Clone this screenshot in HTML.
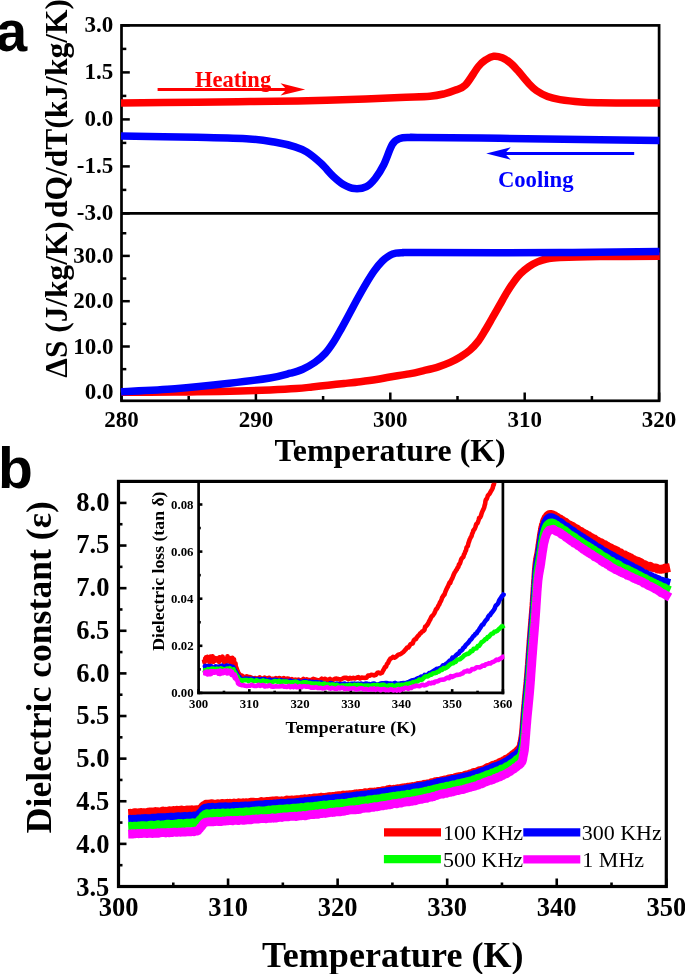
<!DOCTYPE html>
<html><head><meta charset="utf-8"><title>Figure</title>
<style>html,body{margin:0;padding:0;background:#fff;width:685px;height:974px;overflow:hidden}svg{display:block;will-change:transform}</style>
</head><body>
<svg width="685" height="974" viewBox="0 0 685 974">
<text x="194.90" y="86.60" font-size="22.50" font-family='"Liberation Serif", serif' font-weight="bold" fill="#ff0000" text-anchor="start">Heating</text>
<line x1="157.60" y1="89.50" x2="288.00" y2="89.50" stroke="#ff0000" stroke-width="2.90" stroke-linecap="butt"/>
<path d="M305.2,89.45 L280.5,83.3 L286.7,89.45 L280.5,95.6 Z" fill="#ff0000"/>
<text x="497.90" y="187.40" font-size="22.70" font-family='"Liberation Serif", serif' font-weight="bold" fill="#0000ff" text-anchor="start">Cooling</text>
<line x1="503.50" y1="153.50" x2="634.20" y2="153.50" stroke="#0000ff" stroke-width="2.90" stroke-linecap="butt"/>
<path d="M486.2,153.5 L510.7,147.3 L504.8,153.5 L510.7,159.7 Z" fill="#0000ff"/>
<rect x="121.50" y="25.40" width="537.60" height="375.40" fill="none" stroke="#000" stroke-width="2.70"/>
<line x1="121.50" y1="213.30" x2="659.10" y2="213.30" stroke="#000" stroke-width="2.70" stroke-linecap="butt"/>
<line x1="121.50" y1="25.40" x2="129.80" y2="25.40" stroke="#000" stroke-width="2.50" stroke-linecap="butt"/>
<line x1="121.50" y1="48.90" x2="126.30" y2="48.90" stroke="#000" stroke-width="2.50" stroke-linecap="butt"/>
<line x1="121.50" y1="72.40" x2="129.80" y2="72.40" stroke="#000" stroke-width="2.50" stroke-linecap="butt"/>
<line x1="121.50" y1="95.90" x2="126.30" y2="95.90" stroke="#000" stroke-width="2.50" stroke-linecap="butt"/>
<line x1="121.50" y1="119.40" x2="129.80" y2="119.40" stroke="#000" stroke-width="2.50" stroke-linecap="butt"/>
<line x1="121.50" y1="142.90" x2="126.30" y2="142.90" stroke="#000" stroke-width="2.50" stroke-linecap="butt"/>
<line x1="121.50" y1="166.40" x2="129.80" y2="166.40" stroke="#000" stroke-width="2.50" stroke-linecap="butt"/>
<line x1="121.50" y1="189.90" x2="126.30" y2="189.90" stroke="#000" stroke-width="2.50" stroke-linecap="butt"/>
<line x1="121.50" y1="213.40" x2="129.80" y2="213.40" stroke="#000" stroke-width="2.50" stroke-linecap="butt"/>
<line x1="121.50" y1="391.80" x2="129.80" y2="391.80" stroke="#000" stroke-width="2.50" stroke-linecap="butt"/>
<line x1="121.50" y1="369.15" x2="126.30" y2="369.15" stroke="#000" stroke-width="2.50" stroke-linecap="butt"/>
<line x1="121.50" y1="346.50" x2="129.80" y2="346.50" stroke="#000" stroke-width="2.50" stroke-linecap="butt"/>
<line x1="121.50" y1="323.85" x2="126.30" y2="323.85" stroke="#000" stroke-width="2.50" stroke-linecap="butt"/>
<line x1="121.50" y1="301.20" x2="129.80" y2="301.20" stroke="#000" stroke-width="2.50" stroke-linecap="butt"/>
<line x1="121.50" y1="278.55" x2="126.30" y2="278.55" stroke="#000" stroke-width="2.50" stroke-linecap="butt"/>
<line x1="121.50" y1="255.90" x2="129.80" y2="255.90" stroke="#000" stroke-width="2.50" stroke-linecap="butt"/>
<line x1="121.50" y1="233.25" x2="126.30" y2="233.25" stroke="#000" stroke-width="2.50" stroke-linecap="butt"/>
<line x1="121.50" y1="400.80" x2="121.50" y2="392.50" stroke="#000" stroke-width="2.50" stroke-linecap="butt"/>
<line x1="188.70" y1="400.80" x2="188.70" y2="396.00" stroke="#000" stroke-width="2.50" stroke-linecap="butt"/>
<line x1="255.90" y1="400.80" x2="255.90" y2="392.50" stroke="#000" stroke-width="2.50" stroke-linecap="butt"/>
<line x1="323.10" y1="400.80" x2="323.10" y2="396.00" stroke="#000" stroke-width="2.50" stroke-linecap="butt"/>
<line x1="390.30" y1="400.80" x2="390.30" y2="392.50" stroke="#000" stroke-width="2.50" stroke-linecap="butt"/>
<line x1="457.50" y1="400.80" x2="457.50" y2="396.00" stroke="#000" stroke-width="2.50" stroke-linecap="butt"/>
<line x1="524.70" y1="400.80" x2="524.70" y2="392.50" stroke="#000" stroke-width="2.50" stroke-linecap="butt"/>
<line x1="591.90" y1="400.80" x2="591.90" y2="396.00" stroke="#000" stroke-width="2.50" stroke-linecap="butt"/>
<line x1="659.10" y1="400.80" x2="659.10" y2="392.50" stroke="#000" stroke-width="2.50" stroke-linecap="butt"/>
<path d="M121.00,102.90 C133.67,102.78 175.50,102.42 197.00,102.20 C218.50,101.98 233.17,101.80 250.00,101.60 C266.83,101.40 281.33,101.33 298.00,101.00 C314.67,100.67 333.00,100.20 350.00,99.60 C367.00,99.00 386.67,97.97 400.00,97.40 C413.33,96.83 422.50,96.83 430.00,96.20 C437.50,95.57 440.83,94.58 445.00,93.60 C449.17,92.62 451.62,91.70 455.00,90.30 C458.38,88.90 461.40,89.17 465.30,85.20 C469.20,81.23 474.90,70.78 478.40,66.50 C481.90,62.22 483.77,61.20 486.30,59.50 C488.83,57.80 490.95,56.58 493.60,56.30 C496.25,56.02 499.40,56.68 502.20,57.80 C505.00,58.92 507.80,60.87 510.40,63.00 C513.00,65.13 514.75,67.18 517.80,70.60 C520.85,74.02 525.62,80.18 528.70,83.50 C531.78,86.82 533.15,88.33 536.30,90.50 C539.45,92.67 543.65,94.98 547.60,96.50 C551.55,98.02 554.43,98.68 560.00,99.60 C565.57,100.52 574.33,101.48 581.00,102.00 C587.67,102.52 591.83,102.55 600.00,102.70 C608.17,102.85 620.03,102.86 630.00,102.90 C639.97,102.94 654.83,102.94 659.80,102.95" fill="none" stroke="#ff0000" stroke-width="7.50" stroke-linejoin="round" stroke-linecap="butt"/>
<path d="M121.00,136.00 C133.63,136.22 175.40,136.82 196.80,137.30 C218.20,137.78 236.27,138.07 249.40,138.90 C262.53,139.73 268.00,140.98 275.60,142.30 C283.20,143.62 289.83,145.20 295.00,146.80 C300.17,148.40 302.28,149.15 306.60,151.90 C310.92,154.65 316.48,159.25 320.90,163.30 C325.32,167.35 329.35,172.68 333.10,176.20 C336.85,179.72 339.83,182.33 343.40,184.40 C346.97,186.47 350.65,188.23 354.50,188.60 C358.35,188.97 363.05,188.28 366.50,186.60 C369.95,184.92 372.35,182.10 375.20,178.50 C378.05,174.90 380.73,170.70 383.60,165.00 C386.47,159.30 389.70,148.73 392.40,144.30 C395.10,139.87 396.87,139.53 399.80,138.40 C402.73,137.27 406.63,137.67 410.00,137.50 C413.37,137.33 405.00,137.27 420.00,137.40 C435.00,137.53 470.00,137.92 500.00,138.30 C530.00,138.68 573.42,139.33 600.00,139.70 C626.58,140.07 649.58,140.37 659.50,140.50" fill="none" stroke="#0000ff" stroke-width="7.50" stroke-linejoin="round" stroke-linecap="butt"/>
<path d="M121.60,392.20 C130.50,392.18 162.43,392.17 175.00,392.10 C187.57,392.03 186.17,391.98 197.00,391.80 C207.83,391.62 227.83,391.32 240.00,391.00 C252.17,390.68 260.65,390.32 270.00,389.90 C279.35,389.48 289.08,388.98 296.10,388.50 C303.12,388.02 306.75,387.55 312.10,387.00 C317.45,386.45 322.85,385.78 328.20,385.20 C333.55,384.62 338.85,384.08 344.20,383.50 C349.55,382.92 354.93,382.37 360.30,381.70 C365.67,381.03 371.45,380.28 376.40,379.50 C381.35,378.72 384.53,377.93 390.00,377.00 C395.47,376.07 403.57,374.97 409.20,373.90 C414.83,372.83 418.93,371.78 423.80,370.60 C428.67,369.42 434.02,368.17 438.40,366.80 C442.78,365.43 446.45,364.03 450.10,362.40 C453.75,360.77 457.02,359.02 460.30,357.00 C463.58,354.98 466.80,352.95 469.80,350.30 C472.80,347.65 475.68,344.53 478.30,341.10 C480.92,337.67 483.12,333.65 485.50,329.70 C487.88,325.75 490.25,321.48 492.60,317.40 C494.95,313.32 497.27,309.28 499.60,305.20 C501.93,301.12 504.28,296.70 506.60,292.90 C508.92,289.10 511.18,285.60 513.50,282.40 C515.82,279.20 517.92,276.33 520.50,273.70 C523.08,271.07 526.17,268.57 529.00,266.60 C531.83,264.63 534.42,263.20 537.50,261.90 C540.58,260.60 543.75,259.53 547.50,258.80 C551.25,258.07 551.25,257.87 560.00,257.50 C568.75,257.13 583.37,256.80 600.00,256.60 C616.63,256.40 649.83,256.35 659.80,256.30" fill="none" stroke="#ff0000" stroke-width="7.50" stroke-linejoin="round" stroke-linecap="butt"/>
<path d="M121.00,391.70 C130.00,391.20 156.92,390.10 175.00,388.70 C193.08,387.30 213.67,385.08 229.50,383.30 C245.33,381.52 259.85,379.68 270.00,378.00 C280.15,376.32 284.95,374.67 290.40,373.20 C295.85,371.73 298.60,371.02 302.70,369.20 C306.80,367.38 311.25,364.93 315.00,362.30 C318.75,359.67 322.13,356.73 325.20,353.40 C328.27,350.07 330.68,346.48 333.40,342.30 C336.12,338.12 338.78,333.15 341.50,328.30 C344.22,323.45 346.97,318.25 349.70,313.20 C352.43,308.15 355.17,302.93 357.90,298.00 C360.63,293.07 363.38,288.12 366.10,283.60 C368.82,279.08 371.48,274.67 374.20,270.90 C376.92,267.13 379.77,263.60 382.40,261.00 C385.03,258.40 387.73,256.60 390.00,255.30 C392.27,254.00 394.00,253.63 396.00,253.20 C398.00,252.77 398.00,252.80 402.00,252.70 C406.00,252.60 393.67,252.62 420.00,252.60 C446.33,252.58 520.08,252.78 560.00,252.60 C599.92,252.42 642.92,251.68 659.50,251.50" fill="none" stroke="#0000ff" stroke-width="7.50" stroke-linejoin="round" stroke-linecap="butt"/>
<text x="113.28" y="32.49" font-size="23.00" font-family='"Liberation Serif", serif' font-weight="bold" fill="#000" text-anchor="end">3.0</text>
<text x="113.24" y="79.43" font-size="23.00" font-family='"Liberation Serif", serif' font-weight="bold" fill="#000" text-anchor="end">1.5</text>
<text x="113.28" y="126.49" font-size="23.00" font-family='"Liberation Serif", serif' font-weight="bold" fill="#000" text-anchor="end">0.0</text>
<text x="113.24" y="173.43" font-size="23.00" font-family='"Liberation Serif", serif' font-weight="bold" fill="#000" text-anchor="end">-1.5</text>
<text x="113.28" y="220.49" font-size="23.00" font-family='"Liberation Serif", serif' font-weight="bold" fill="#000" text-anchor="end">-3.0</text>
<text x="113.48" y="398.99" font-size="23.00" font-family='"Liberation Serif", serif' font-weight="bold" fill="#000" text-anchor="end">0.0</text>
<text x="113.48" y="353.69" font-size="23.00" font-family='"Liberation Serif", serif' font-weight="bold" fill="#000" text-anchor="end">10.0</text>
<text x="113.48" y="308.39" font-size="23.00" font-family='"Liberation Serif", serif' font-weight="bold" fill="#000" text-anchor="end">20.0</text>
<text x="113.48" y="263.09" font-size="23.00" font-family='"Liberation Serif", serif' font-weight="bold" fill="#000" text-anchor="end">30.0</text>
<text x="121.50" y="427.00" font-size="23.00" font-family='"Liberation Serif", serif' font-weight="bold" fill="#000" text-anchor="middle">280</text>
<text x="255.90" y="427.00" font-size="23.00" font-family='"Liberation Serif", serif' font-weight="bold" fill="#000" text-anchor="middle">290</text>
<text x="390.30" y="427.00" font-size="23.00" font-family='"Liberation Serif", serif' font-weight="bold" fill="#000" text-anchor="middle">300</text>
<text x="524.70" y="427.00" font-size="23.00" font-family='"Liberation Serif", serif' font-weight="bold" fill="#000" text-anchor="middle">310</text>
<text x="659.10" y="427.00" font-size="23.00" font-family='"Liberation Serif", serif' font-weight="bold" fill="#000" text-anchor="middle">320</text>
<text x="274.40" y="461.00" font-size="31.80" font-family='"Liberation Serif", serif' font-weight="bold" fill="#000" text-anchor="start" textLength="231.3">Temperature (K)</text>
<text x="66.75" y="377.70" font-size="31.35" font-family='"Liberation Serif", serif' font-weight="bold" fill="#000" text-anchor="start" transform="rotate(-90 66.75 377.70)" textLength="156.4">ΔS (J/kg/K)</text>
<text x="66.75" y="218.00" font-size="31.50" font-family='"Liberation Serif", serif' font-weight="bold" fill="#000" text-anchor="start" transform="rotate(-90 66.75 218.00)" textLength="218.96">dQ/dT(kJ/kg/K)</text>
<text x="-4.30" y="51.40" font-size="56.50" font-family='"Liberation Sans", sans-serif' font-weight="bold" fill="#000" text-anchor="start">a</text>
<rect x="118.50" y="481.40" width="547.80" height="405.10" fill="none" stroke="#000" stroke-width="3.20"/>
<line x1="118.50" y1="886.50" x2="126.50" y2="886.50" stroke="#000" stroke-width="2.60" stroke-linecap="butt"/>
<line x1="118.50" y1="865.19" x2="122.50" y2="865.19" stroke="#000" stroke-width="2.60" stroke-linecap="butt"/>
<line x1="118.50" y1="843.88" x2="126.50" y2="843.88" stroke="#000" stroke-width="2.60" stroke-linecap="butt"/>
<line x1="118.50" y1="822.57" x2="122.50" y2="822.57" stroke="#000" stroke-width="2.60" stroke-linecap="butt"/>
<line x1="118.50" y1="801.26" x2="126.50" y2="801.26" stroke="#000" stroke-width="2.60" stroke-linecap="butt"/>
<line x1="118.50" y1="779.95" x2="122.50" y2="779.95" stroke="#000" stroke-width="2.60" stroke-linecap="butt"/>
<line x1="118.50" y1="758.64" x2="126.50" y2="758.64" stroke="#000" stroke-width="2.60" stroke-linecap="butt"/>
<line x1="118.50" y1="737.33" x2="122.50" y2="737.33" stroke="#000" stroke-width="2.60" stroke-linecap="butt"/>
<line x1="118.50" y1="716.02" x2="126.50" y2="716.02" stroke="#000" stroke-width="2.60" stroke-linecap="butt"/>
<line x1="118.50" y1="694.71" x2="122.50" y2="694.71" stroke="#000" stroke-width="2.60" stroke-linecap="butt"/>
<line x1="118.50" y1="673.40" x2="126.50" y2="673.40" stroke="#000" stroke-width="2.60" stroke-linecap="butt"/>
<line x1="118.50" y1="652.09" x2="122.50" y2="652.09" stroke="#000" stroke-width="2.60" stroke-linecap="butt"/>
<line x1="118.50" y1="630.78" x2="126.50" y2="630.78" stroke="#000" stroke-width="2.60" stroke-linecap="butt"/>
<line x1="118.50" y1="609.47" x2="122.50" y2="609.47" stroke="#000" stroke-width="2.60" stroke-linecap="butt"/>
<line x1="118.50" y1="588.16" x2="126.50" y2="588.16" stroke="#000" stroke-width="2.60" stroke-linecap="butt"/>
<line x1="118.50" y1="566.85" x2="122.50" y2="566.85" stroke="#000" stroke-width="2.60" stroke-linecap="butt"/>
<line x1="118.50" y1="545.54" x2="126.50" y2="545.54" stroke="#000" stroke-width="2.60" stroke-linecap="butt"/>
<line x1="118.50" y1="524.23" x2="122.50" y2="524.23" stroke="#000" stroke-width="2.60" stroke-linecap="butt"/>
<line x1="118.50" y1="502.92" x2="126.50" y2="502.92" stroke="#000" stroke-width="2.60" stroke-linecap="butt"/>
<line x1="118.50" y1="886.50" x2="118.50" y2="878.50" stroke="#000" stroke-width="2.60" stroke-linecap="butt"/>
<line x1="173.28" y1="886.50" x2="173.28" y2="882.50" stroke="#000" stroke-width="2.60" stroke-linecap="butt"/>
<line x1="228.06" y1="886.50" x2="228.06" y2="878.50" stroke="#000" stroke-width="2.60" stroke-linecap="butt"/>
<line x1="282.84" y1="886.50" x2="282.84" y2="882.50" stroke="#000" stroke-width="2.60" stroke-linecap="butt"/>
<line x1="337.62" y1="886.50" x2="337.62" y2="878.50" stroke="#000" stroke-width="2.60" stroke-linecap="butt"/>
<line x1="392.40" y1="886.50" x2="392.40" y2="882.50" stroke="#000" stroke-width="2.60" stroke-linecap="butt"/>
<line x1="447.18" y1="886.50" x2="447.18" y2="878.50" stroke="#000" stroke-width="2.60" stroke-linecap="butt"/>
<line x1="501.96" y1="886.50" x2="501.96" y2="882.50" stroke="#000" stroke-width="2.60" stroke-linecap="butt"/>
<line x1="556.74" y1="886.50" x2="556.74" y2="878.50" stroke="#000" stroke-width="2.60" stroke-linecap="butt"/>
<line x1="611.52" y1="886.50" x2="611.52" y2="882.50" stroke="#000" stroke-width="2.60" stroke-linecap="butt"/>
<line x1="666.30" y1="886.50" x2="666.30" y2="878.50" stroke="#000" stroke-width="2.60" stroke-linecap="butt"/>
<text x="109.37" y="895.69" font-size="26.50" font-family='"Liberation Serif", serif' font-weight="bold" fill="#000" text-anchor="end">3.5</text>
<text x="109.41" y="852.95" font-size="26.50" font-family='"Liberation Serif", serif' font-weight="bold" fill="#000" text-anchor="end">4.0</text>
<text x="109.37" y="810.08" font-size="26.50" font-family='"Liberation Serif", serif' font-weight="bold" fill="#000" text-anchor="end">4.5</text>
<text x="109.41" y="767.40" font-size="26.50" font-family='"Liberation Serif", serif' font-weight="bold" fill="#000" text-anchor="end">5.0</text>
<text x="109.37" y="724.49" font-size="26.50" font-family='"Liberation Serif", serif' font-weight="bold" fill="#000" text-anchor="end">5.5</text>
<text x="109.41" y="681.85" font-size="26.50" font-family='"Liberation Serif", serif' font-weight="bold" fill="#000" text-anchor="end">6.0</text>
<text x="109.37" y="639.03" font-size="26.50" font-family='"Liberation Serif", serif' font-weight="bold" fill="#000" text-anchor="end">6.5</text>
<text x="109.41" y="596.30" font-size="26.50" font-family='"Liberation Serif", serif' font-weight="bold" fill="#000" text-anchor="end">7.0</text>
<text x="109.37" y="553.38" font-size="26.50" font-family='"Liberation Serif", serif' font-weight="bold" fill="#000" text-anchor="end">7.5</text>
<text x="109.41" y="510.74" font-size="26.50" font-family='"Liberation Serif", serif' font-weight="bold" fill="#000" text-anchor="end">8.0</text>
<text x="118.50" y="916.00" font-size="26.50" font-family='"Liberation Serif", serif' font-weight="bold" fill="#000" text-anchor="middle">300</text>
<text x="228.06" y="916.00" font-size="26.50" font-family='"Liberation Serif", serif' font-weight="bold" fill="#000" text-anchor="middle">310</text>
<text x="337.62" y="916.00" font-size="26.50" font-family='"Liberation Serif", serif' font-weight="bold" fill="#000" text-anchor="middle">320</text>
<text x="447.18" y="916.00" font-size="26.50" font-family='"Liberation Serif", serif' font-weight="bold" fill="#000" text-anchor="middle">330</text>
<text x="556.74" y="916.00" font-size="26.50" font-family='"Liberation Serif", serif' font-weight="bold" fill="#000" text-anchor="middle">340</text>
<text x="666.30" y="916.00" font-size="26.50" font-family='"Liberation Serif", serif' font-weight="bold" fill="#000" text-anchor="middle">350</text>
<text x="262.04" y="967.00" font-size="36.10" font-family='"Liberation Serif", serif' font-weight="bold" fill="#000" text-anchor="start" textLength="261.55">Temperature (K)</text>
<text x="50.90" y="833.20" font-size="35.60" font-family='"Liberation Serif", serif' font-weight="bold" fill="#000" text-anchor="start" transform="rotate(-90 50.90 833.20)" textLength="332.0">Dielectric constant (ε)</text>
<text x="-2.00" y="488.00" font-size="57.00" font-family='"Liberation Sans", sans-serif' font-weight="bold" fill="#000" text-anchor="start">b</text>
<line x1="198.60" y1="481.40" x2="198.60" y2="694.25" stroke="#000" stroke-width="2.70" stroke-linecap="butt"/>
<line x1="502.90" y1="481.40" x2="502.90" y2="694.25" stroke="#000" stroke-width="2.70" stroke-linecap="butt"/>
<line x1="197.25" y1="692.90" x2="504.25" y2="692.90" stroke="#000" stroke-width="2.70" stroke-linecap="butt"/>
<line x1="198.60" y1="692.90" x2="202.40" y2="692.90" stroke="#000" stroke-width="2.60" stroke-linecap="butt"/>
<line x1="198.60" y1="669.35" x2="200.80" y2="669.35" stroke="#000" stroke-width="2.60" stroke-linecap="butt"/>
<line x1="198.60" y1="645.80" x2="202.40" y2="645.80" stroke="#000" stroke-width="2.60" stroke-linecap="butt"/>
<line x1="198.60" y1="622.25" x2="200.80" y2="622.25" stroke="#000" stroke-width="2.60" stroke-linecap="butt"/>
<line x1="198.60" y1="598.70" x2="202.40" y2="598.70" stroke="#000" stroke-width="2.60" stroke-linecap="butt"/>
<line x1="198.60" y1="575.15" x2="200.80" y2="575.15" stroke="#000" stroke-width="2.60" stroke-linecap="butt"/>
<line x1="198.60" y1="551.60" x2="202.40" y2="551.60" stroke="#000" stroke-width="2.60" stroke-linecap="butt"/>
<line x1="198.60" y1="528.05" x2="200.80" y2="528.05" stroke="#000" stroke-width="2.60" stroke-linecap="butt"/>
<line x1="198.60" y1="504.50" x2="202.40" y2="504.50" stroke="#000" stroke-width="2.60" stroke-linecap="butt"/>
<line x1="198.60" y1="692.90" x2="198.60" y2="689.10" stroke="#000" stroke-width="2.60" stroke-linecap="butt"/>
<line x1="223.96" y1="692.90" x2="223.96" y2="690.70" stroke="#000" stroke-width="2.60" stroke-linecap="butt"/>
<line x1="249.32" y1="692.90" x2="249.32" y2="689.10" stroke="#000" stroke-width="2.60" stroke-linecap="butt"/>
<line x1="274.67" y1="692.90" x2="274.67" y2="690.70" stroke="#000" stroke-width="2.60" stroke-linecap="butt"/>
<line x1="300.03" y1="692.90" x2="300.03" y2="689.10" stroke="#000" stroke-width="2.60" stroke-linecap="butt"/>
<line x1="325.39" y1="692.90" x2="325.39" y2="690.70" stroke="#000" stroke-width="2.60" stroke-linecap="butt"/>
<line x1="350.75" y1="692.90" x2="350.75" y2="689.10" stroke="#000" stroke-width="2.60" stroke-linecap="butt"/>
<line x1="376.11" y1="692.90" x2="376.11" y2="690.70" stroke="#000" stroke-width="2.60" stroke-linecap="butt"/>
<line x1="401.47" y1="692.90" x2="401.47" y2="689.10" stroke="#000" stroke-width="2.60" stroke-linecap="butt"/>
<line x1="426.82" y1="692.90" x2="426.82" y2="690.70" stroke="#000" stroke-width="2.60" stroke-linecap="butt"/>
<line x1="452.18" y1="692.90" x2="452.18" y2="689.10" stroke="#000" stroke-width="2.60" stroke-linecap="butt"/>
<line x1="477.54" y1="692.90" x2="477.54" y2="690.70" stroke="#000" stroke-width="2.60" stroke-linecap="butt"/>
<line x1="502.90" y1="692.90" x2="502.90" y2="689.10" stroke="#000" stroke-width="2.60" stroke-linecap="butt"/>
<text x="193.59" y="697.07" font-size="12.80" font-family='"Liberation Serif", serif' font-weight="bold" fill="#000" text-anchor="end">0.00</text>
<text x="193.65" y="649.97" font-size="12.80" font-family='"Liberation Serif", serif' font-weight="bold" fill="#000" text-anchor="end">0.02</text>
<text x="193.34" y="602.87" font-size="12.80" font-family='"Liberation Serif", serif' font-weight="bold" fill="#000" text-anchor="end">0.04</text>
<text x="193.47" y="555.77" font-size="12.80" font-family='"Liberation Serif", serif' font-weight="bold" fill="#000" text-anchor="end">0.06</text>
<text x="193.53" y="508.67" font-size="12.80" font-family='"Liberation Serif", serif' font-weight="bold" fill="#000" text-anchor="end">0.08</text>
<text x="198.60" y="707.80" font-size="12.80" font-family='"Liberation Serif", serif' font-weight="bold" fill="#000" text-anchor="middle">300</text>
<text x="249.32" y="707.80" font-size="12.80" font-family='"Liberation Serif", serif' font-weight="bold" fill="#000" text-anchor="middle">310</text>
<text x="300.03" y="707.80" font-size="12.80" font-family='"Liberation Serif", serif' font-weight="bold" fill="#000" text-anchor="middle">320</text>
<text x="350.75" y="707.80" font-size="12.80" font-family='"Liberation Serif", serif' font-weight="bold" fill="#000" text-anchor="middle">330</text>
<text x="401.47" y="707.80" font-size="12.80" font-family='"Liberation Serif", serif' font-weight="bold" fill="#000" text-anchor="middle">340</text>
<text x="452.18" y="707.80" font-size="12.80" font-family='"Liberation Serif", serif' font-weight="bold" fill="#000" text-anchor="middle">350</text>
<text x="502.90" y="707.80" font-size="12.80" font-family='"Liberation Serif", serif' font-weight="bold" fill="#000" text-anchor="middle">360</text>
<text x="285.40" y="732.90" font-size="17.70" font-family='"Liberation Serif", serif' font-weight="bold" fill="#000" text-anchor="start" textLength="130.65">Temperature (K)</text>
<text x="163.90" y="650.80" font-size="17.70" font-family='"Liberation Serif", serif' font-weight="bold" fill="#000" text-anchor="start" transform="rotate(-90 163.90 650.80)" textLength="159.3">Dielectric loss (tan δ)</text>
<path d="M128.20,813.50 L128.87,813.46 L129.64,813.41 L130.50,813.07 L131.46,813.55 L132.50,813.43 L133.61,812.90 L134.79,812.73 L136.03,812.66 L137.32,813.05 L138.65,812.87 L140.02,812.59 L141.43,812.45 L142.85,812.73 L144.29,812.73 L145.74,812.74 L147.18,812.45 L148.62,812.02 L150.04,811.81 L151.44,812.33 L152.82,811.95 L154.15,812.15 L155.44,811.48 L156.68,812.08 L157.85,811.58 L158.96,811.97 L160.00,811.93 L161.58,811.50 L163.10,810.97 L164.56,811.69 L165.96,811.21 L167.30,811.48 L168.60,810.85 L169.86,810.70 L171.07,811.20 L172.26,810.71 L173.41,810.45 L174.54,810.56 L175.66,810.69 L176.75,810.08 L177.84,810.47 L178.92,810.33 L180.00,810.31 L181.44,809.93 L182.88,810.43 L184.29,810.49 L185.68,810.50 L187.03,809.98 L188.34,810.29 L189.58,809.96 L190.76,810.25 L191.86,809.59 L192.88,810.28 L193.79,810.30 L194.60,809.84 L196.99,809.66 L198.00,809.90 L198.87,809.89 L199.74,809.16 L200.62,809.66 L201.50,808.30 L202.29,807.27 L203.03,806.15 L203.88,805.35 L205.00,805.19 L206.16,804.19 L207.50,804.03 L208.96,804.46 L210.48,803.94 L212.00,803.70 L213.14,804.15 L214.15,804.10 L215.19,804.03 L216.41,804.17 L217.96,803.60 L220.00,804.21 L220.90,804.04 L221.86,803.40 L222.86,803.43 L223.92,803.72 L225.03,803.69 L226.18,803.44 L227.38,803.26 L228.62,803.46 L229.91,803.17 L231.24,803.52 L232.61,803.70 L234.02,802.99 L235.46,803.30 L236.94,803.39 L238.45,802.78 L240.00,803.29 L241.02,803.34 L242.06,802.80 L243.14,802.77 L244.24,803.09 L245.36,802.75 L246.51,802.57 L247.67,802.99 L248.86,802.78 L250.06,802.32 L251.28,802.16 L252.51,802.18 L253.75,802.19 L255.00,802.61 L256.26,802.38 L257.52,802.41 L258.79,802.24 L260.05,802.20 L261.32,801.41 L262.58,801.75 L263.84,802.07 L265.09,801.98 L266.34,801.29 L267.57,801.37 L268.79,801.49 L270.00,801.18 L271.20,801.26 L272.40,800.78 L273.60,801.04 L274.80,801.03 L276.00,800.53 L277.20,800.58 L278.40,801.26 L279.60,801.02 L280.80,801.10 L282.00,800.76 L283.20,800.86 L284.40,800.86 L285.60,800.79 L286.80,799.96 L288.00,800.44 L289.20,800.03 L290.40,800.33 L291.60,799.89 L292.80,800.06 L294.00,800.32 L295.20,799.97 L296.40,799.55 L297.60,799.70 L298.80,799.53 L300.00,799.91 L301.20,799.22 L302.40,799.14 L303.60,799.35 L304.80,798.78 L306.00,799.10 L307.20,799.33 L308.40,798.82 L309.60,798.49 L310.80,798.56 L312.00,798.51 L313.20,798.05 L314.40,797.91 L315.60,797.80 L316.80,797.83 L318.00,797.81 L319.20,797.58 L320.40,797.42 L321.60,797.16 L322.80,797.45 L324.00,797.60 L325.20,797.27 L326.40,797.12 L327.60,797.07 L328.80,796.55 L330.00,796.89 L331.20,796.55 L332.40,796.51 L333.60,796.46 L334.80,796.21 L336.00,795.96 L337.20,795.78 L338.40,795.65 L339.60,795.80 L340.80,795.57 L342.00,795.63 L343.20,795.00 L344.40,795.19 L345.60,795.54 L346.80,794.86 L348.00,795.03 L349.20,794.85 L350.40,794.54 L351.60,795.05 L352.80,794.30 L354.00,794.61 L355.20,793.93 L356.40,793.71 L357.60,794.31 L358.80,793.78 L360.00,793.31 L361.20,793.46 L362.40,793.36 L363.60,793.48 L364.80,792.77 L366.00,792.73 L367.20,793.24 L368.40,792.89 L369.60,792.21 L370.80,792.21 L372.00,792.07 L373.20,792.20 L374.40,791.99 L375.60,792.04 L376.80,791.85 L378.00,791.42 L379.20,791.45 L380.40,791.29 L381.60,791.14 L382.80,790.72 L384.00,790.84 L385.20,790.60 L386.40,790.62 L387.60,789.75 L388.80,790.25 L390.00,789.30 L391.21,789.82 L392.43,789.49 L393.66,789.25 L394.91,789.50 L396.16,788.97 L397.42,788.67 L398.68,788.82 L399.95,788.73 L401.21,788.32 L402.48,787.94 L403.74,787.84 L405.00,787.67 L406.25,787.73 L407.49,787.17 L408.72,787.08 L409.94,787.05 L411.14,786.72 L412.33,786.49 L413.49,786.73 L414.64,786.61 L415.76,786.12 L416.86,785.89 L417.94,785.47 L418.98,785.40 L420.00,785.08 L421.45,785.22 L422.84,784.97 L424.19,784.26 L425.50,784.74 L426.77,783.93 L428.00,784.13 L429.20,783.85 L430.36,783.68 L431.50,782.73 L432.62,782.66 L433.71,782.83 L434.79,781.76 L435.85,781.54 L436.90,781.75 L437.94,781.45 L438.97,781.60 L440.00,781.25 L441.43,780.71 L442.79,780.81 L444.10,780.09 L445.37,779.81 L446.60,779.70 L447.81,779.18 L449.00,778.90 L450.19,778.86 L451.37,778.38 L452.56,778.66 L453.77,778.14 L455.00,777.72 L456.25,777.05 L457.50,777.01 L458.75,776.74 L460.00,776.60 L461.25,776.31 L462.50,776.29 L463.75,776.07 L465.00,775.33 L466.25,774.96 L467.50,774.80 L468.75,774.80 L470.00,773.86 L471.15,773.67 L472.31,773.55 L473.46,772.59 L474.62,772.34 L475.77,772.54 L476.92,772.00 L478.08,771.31 L479.23,770.54 L480.38,770.83 L481.54,770.22 L482.69,769.91 L483.85,769.63 L485.00,769.10 L486.17,768.23 L487.36,767.53 L488.56,767.18 L489.78,766.90 L491.00,766.41 L492.21,765.63 L493.41,765.14 L494.59,765.05 L495.75,764.54 L496.88,763.84 L497.97,763.95 L499.01,763.17 L500.00,762.19 L501.35,761.90 L502.64,761.63 L503.85,760.61 L505.01,760.37 L505.97,759.18 L506.89,758.90 L507.77,758.83 L508.61,758.06 L509.41,757.61 L510.50,756.43 L511.45,755.99 L512.30,755.35 L513.10,754.40 L513.88,754.04 L514.70,753.20 L515.69,752.87 L516.70,751.75 L517.70,750.85 L518.64,749.80 L519.49,748.96 L520.20,748.52 L520.74,746.83 L521.15,745.63 L521.46,744.43 L521.71,743.44 L521.95,742.36 L522.20,740.83 L522.42,739.99 L522.60,738.47 L522.76,737.60 L522.92,737.35 L523.09,735.75 L523.28,734.52 L523.50,732.06 L523.58,731.04 L523.67,730.22 L523.75,729.10 L523.84,728.80 L523.93,727.43 L524.02,726.10 L524.11,725.02 L524.21,723.76 L524.30,722.22 L524.40,721.70 L524.50,720.13 L524.60,719.15 L524.71,717.34 L524.81,716.14 L524.92,714.44 L525.03,712.88 L525.14,712.30 L525.25,710.85 L525.37,708.99 L525.48,708.14 L525.60,706.71 L525.70,705.11 L525.81,704.24 L525.91,703.40 L526.02,701.82 L526.13,701.05 L526.25,699.23 L526.36,698.17 L526.48,697.27 L526.60,695.61 L526.72,694.47 L526.84,693.76 L526.96,692.17 L527.08,691.21 L527.20,689.47 L527.32,688.15 L527.44,687.06 L527.57,685.63 L527.69,685.07 L527.81,683.17 L527.93,682.13 L528.04,680.43 L528.16,679.51 L528.28,678.07 L528.39,676.77 L528.50,675.15 L528.59,674.06 L528.69,673.54 L528.78,671.96 L528.87,670.69 L528.96,669.47 L529.05,668.37 L529.14,667.13 L529.23,665.75 L529.32,665.12 L529.41,663.62 L529.50,662.24 L529.59,661.51 L529.67,659.74 L529.76,658.68 L529.85,657.96 L529.94,656.09 L530.02,655.14 L530.11,654.26 L530.20,653.00 L530.29,651.19 L530.38,650.13 L530.47,649.23 L530.55,647.69 L530.64,646.98 L530.73,645.08 L530.82,644.52 L530.92,642.90 L531.01,641.44 L531.10,640.43 L531.19,638.93 L531.29,638.24 L531.38,636.64 L531.48,636.01 L531.57,634.54 L531.67,633.14 L531.76,631.84 L531.86,630.97 L531.96,629.42 L532.05,628.82 L532.15,626.96 L532.25,626.12 L532.35,624.95 L532.44,623.51 L532.54,622.76 L532.64,621.21 L532.74,620.26 L532.84,618.97 L532.93,617.54 L533.03,616.40 L533.13,614.91 L533.23,613.77 L533.32,613.16 L533.42,611.45 L533.52,610.53 L533.61,608.79 L533.71,607.95 L533.80,606.52 L533.90,605.39 L533.99,604.01 L534.08,602.58 L534.17,601.56 L534.25,600.22 L534.34,598.84 L534.43,598.07 L534.52,596.36 L534.61,595.14 L534.70,594.26 L534.79,592.80 L534.87,591.55 L534.96,590.18 L535.05,588.18 L535.14,586.96 L535.22,585.40 L535.31,584.66 L535.40,583.33 L535.49,581.74 L535.57,580.51 L535.66,579.46 L535.75,578.25 L535.83,576.62 L535.92,575.96 L536.01,574.34 L536.09,573.46 L536.18,571.95 L536.26,570.82 L536.35,570.51 L536.43,569.36 L536.52,568.40 L536.60,566.90 L536.80,564.93 L537.00,563.29 L537.20,561.76 L537.40,560.47 L537.60,559.28 L537.80,557.83 L538.00,557.02 L538.19,556.32 L538.38,554.95 L538.57,554.59 L538.75,553.39 L538.93,552.51 L539.10,551.02 L539.31,549.74 L539.52,548.57 L539.71,546.90 L539.90,545.25 L540.09,544.70 L540.27,543.36 L540.45,541.66 L540.63,540.21 L540.81,539.71 L541.00,538.28 L541.21,536.44 L541.41,535.29 L541.62,533.87 L541.82,533.20 L542.03,531.43 L542.24,530.85 L542.45,529.53 L542.67,527.82 L542.90,527.30 L543.26,525.53 L543.63,524.44 L544.01,523.20 L544.40,521.50 L544.80,520.21 L545.20,519.96 L546.00,517.78 L546.82,516.90 L547.70,515.66 L549.11,514.66 L550.70,514.40 L551.96,514.61 L553.33,515.17 L554.70,515.60 L555.63,516.63 L556.55,516.90 L558.80,518.51 L559.51,519.30 L560.32,519.05 L561.20,520.14 L562.16,520.07 L563.18,521.28 L564.26,522.02 L565.37,522.20 L566.51,523.15 L567.68,524.24 L568.85,524.65 L570.03,525.27 L571.19,525.71 L572.33,526.22 L573.45,527.14 L574.52,527.82 L575.54,528.23 L576.53,528.90 L577.50,529.31 L578.44,530.37 L579.37,530.88 L580.30,531.03 L581.25,531.58 L582.21,532.37 L583.20,532.87 L584.22,533.89 L585.28,533.96 L586.36,534.54 L587.50,535.72 L588.71,535.75 L590.00,536.86 L590.85,537.12 L591.72,538.04 L592.61,538.31 L593.53,539.01 L594.47,539.01 L595.43,540.01 L596.41,540.50 L597.41,540.94 L598.42,541.79 L599.45,542.42 L600.50,542.36 L601.56,543.11 L602.64,543.76 L603.72,544.22 L604.82,544.68 L605.93,545.47 L607.04,545.98 L608.16,547.02 L609.29,547.37 L610.43,547.65 L611.57,548.40 L612.71,549.09 L613.85,549.54 L615.00,549.90 L616.03,550.38 L617.08,550.89 L618.14,552.34 L619.22,552.69 L620.32,552.65 L621.43,553.78 L622.55,554.58 L623.68,554.76 L624.81,554.90 L625.96,555.80 L627.11,556.31 L628.26,556.64 L629.42,557.51 L630.58,557.58 L631.74,558.95 L632.89,559.25 L634.04,559.78 L635.19,560.60 L636.32,560.89 L637.45,561.08 L638.57,561.62 L639.68,562.06 L640.78,562.51 L641.86,563.72 L642.92,564.32 L643.97,564.38 L645.00,564.82 L646.21,565.54 L647.44,566.06 L648.69,566.48 L649.96,566.15 L651.23,567.07 L652.51,567.49 L653.78,567.78 L655.05,567.79 L656.31,568.04 L657.55,569.00 L658.77,568.92 L659.97,569.34 L661.13,569.29 L662.26,568.90 L663.35,569.10 L664.39,568.37 L665.39,568.00 L666.32,568.29 L667.20,568.18 L668.01,567.90 L668.75,567.75 L669.41,567.62 L670.00,567.50" fill="none" stroke="#ff0000" stroke-width="8.80" stroke-linejoin="round" stroke-linecap="butt"/>
<path d="M128.20,819.60 L128.87,819.56 L129.64,819.52 L130.50,819.25 L131.46,819.42 L132.50,819.26 L133.61,819.54 L134.79,819.08 L136.03,819.49 L137.32,818.96 L138.65,818.84 L140.02,819.10 L141.43,818.89 L142.85,818.54 L144.29,818.83 L145.74,818.37 L147.18,818.78 L148.62,818.64 L150.04,818.63 L151.44,818.44 L152.82,818.18 L154.15,818.14 L155.44,818.06 L156.68,818.34 L157.85,817.71 L158.96,818.21 L160.00,817.55 L161.58,817.59 L163.10,817.54 L164.56,817.91 L165.96,817.55 L167.30,817.39 L168.60,817.67 L169.86,817.14 L171.07,817.23 L172.26,817.20 L173.41,817.29 L174.54,817.22 L175.66,817.08 L176.75,816.80 L177.84,816.72 L178.92,816.53 L180.00,816.94 L181.44,816.77 L182.88,816.79 L184.29,816.35 L185.68,816.49 L187.03,816.69 L188.34,816.51 L189.58,816.15 L190.76,816.34 L191.86,816.59 L192.88,816.08 L193.79,816.00 L194.60,816.02 L196.99,816.09 L198.00,815.71 L198.87,814.59 L199.74,813.71 L200.62,812.80 L201.50,811.93 L202.29,811.13 L203.03,809.87 L203.88,808.97 L205.00,808.09 L206.16,808.26 L207.50,807.87 L208.96,807.32 L210.48,807.86 L212.00,807.17 L213.14,807.30 L214.15,807.68 L215.19,807.53 L216.41,807.47 L217.96,807.22 L220.00,806.98 L220.90,807.25 L221.86,806.84 L222.86,806.87 L223.92,806.96 L225.03,806.67 L226.18,806.88 L227.38,807.11 L228.62,806.99 L229.91,806.80 L231.24,806.83 L232.61,806.65 L234.02,806.36 L235.46,806.61 L236.94,806.40 L238.45,806.55 L240.00,806.59 L241.02,806.19 L242.06,806.23 L243.14,806.28 L244.24,805.99 L245.36,805.78 L246.51,806.05 L247.67,806.09 L248.86,805.93 L250.06,805.80 L251.28,805.83 L252.51,805.62 L253.75,805.51 L255.00,805.30 L256.26,805.11 L257.52,805.25 L258.79,804.79 L260.05,804.93 L261.32,805.10 L262.58,804.96 L263.84,804.81 L265.09,804.46 L266.34,804.50 L267.57,804.44 L268.79,804.47 L270.00,804.24 L271.20,804.34 L272.40,804.44 L273.60,803.84 L274.80,804.09 L276.00,804.10 L277.20,803.75 L278.40,803.75 L279.60,804.01 L280.80,803.28 L282.00,803.56 L283.20,803.21 L284.40,803.57 L285.60,803.60 L286.80,803.23 L288.00,802.85 L289.20,803.10 L290.40,802.99 L291.60,803.03 L292.80,802.80 L294.00,802.80 L295.20,802.84 L296.40,802.52 L297.60,802.35 L298.80,802.62 L300.00,802.00 L301.20,802.23 L302.40,801.91 L303.60,802.06 L304.80,801.50 L306.00,801.99 L307.20,801.43 L308.40,801.10 L309.60,801.13 L310.80,801.09 L312.00,800.70 L313.20,800.85 L314.40,800.72 L315.60,800.79 L316.80,800.41 L318.00,800.22 L319.20,800.06 L320.40,800.28 L321.60,800.29 L322.80,799.87 L324.00,799.52 L325.20,799.79 L326.40,799.37 L327.60,799.11 L328.80,798.92 L330.00,799.24 L331.20,799.14 L332.40,798.89 L333.60,798.64 L334.80,798.58 L336.00,798.22 L337.20,798.60 L338.40,798.05 L339.60,798.12 L340.80,798.12 L342.00,797.99 L343.20,797.62 L344.40,797.36 L345.60,797.41 L346.80,796.98 L348.00,797.35 L349.20,796.88 L350.40,797.09 L351.60,796.55 L352.80,796.48 L354.00,796.26 L355.20,796.24 L356.40,795.93 L357.60,795.65 L358.80,796.01 L360.00,795.55 L361.20,795.37 L362.40,795.25 L363.60,795.21 L364.80,795.02 L366.00,795.00 L367.20,794.85 L368.40,794.48 L369.60,794.70 L370.80,794.48 L372.00,793.75 L373.20,794.12 L374.40,794.00 L375.60,793.74 L376.80,793.12 L378.00,793.42 L379.20,793.11 L380.40,792.50 L381.60,792.32 L382.80,792.80 L384.00,792.41 L385.20,791.95 L386.40,791.66 L387.60,791.51 L388.80,791.39 L390.00,791.59 L391.21,791.11 L392.43,790.79 L393.66,791.14 L394.91,790.88 L396.16,790.26 L397.42,790.58 L398.68,790.19 L399.95,790.13 L401.21,789.86 L402.48,789.83 L403.74,789.57 L405.00,789.42 L406.25,788.78 L407.49,788.94 L408.72,788.63 L409.94,788.59 L411.14,788.19 L412.33,788.31 L413.49,787.89 L414.64,787.49 L415.76,787.28 L416.86,787.02 L417.94,787.08 L418.98,786.58 L420.00,786.68 L421.45,786.20 L422.84,786.19 L424.19,785.93 L425.50,785.69 L426.77,785.64 L428.00,784.77 L429.20,785.08 L430.36,784.55 L431.50,784.34 L432.62,784.14 L433.71,784.00 L434.79,783.41 L435.85,783.19 L436.90,783.32 L437.94,782.46 L438.97,782.62 L440.00,782.40 L441.43,781.67 L442.79,781.79 L444.10,781.57 L445.37,781.49 L446.60,780.83 L447.81,781.04 L449.00,780.48 L450.19,780.23 L451.37,780.28 L452.56,779.44 L453.77,779.67 L455.00,779.34 L456.25,778.87 L457.50,778.97 L458.75,778.35 L460.00,778.16 L461.25,777.92 L462.50,777.81 L463.75,777.14 L465.00,777.01 L466.25,776.70 L467.50,776.49 L468.75,776.36 L470.00,775.66 L471.15,775.68 L472.31,775.03 L473.46,774.74 L474.62,774.20 L475.77,773.99 L476.92,773.93 L478.08,773.32 L479.23,773.02 L480.38,772.29 L481.54,771.87 L482.69,771.45 L483.85,771.23 L485.00,770.84 L486.17,770.52 L487.36,769.55 L488.56,769.58 L489.78,769.23 L491.00,768.52 L492.21,767.70 L493.41,767.40 L494.59,766.72 L495.75,766.38 L496.88,766.42 L497.97,765.75 L499.01,765.34 L500.00,765.00 L501.35,764.48 L502.64,763.68 L503.85,763.10 L505.01,762.54 L506.01,762.03 L506.97,761.41 L507.89,760.93 L508.76,760.07 L509.59,759.87 L510.73,758.98 L511.72,758.49 L512.60,757.35 L513.43,756.72 L514.25,755.93 L515.10,755.72 L516.09,755.07 L517.10,754.17 L518.10,753.22 L519.04,752.75 L519.89,751.86 L520.60,750.74 L521.14,749.45 L521.55,748.29 L521.86,747.12 L522.11,745.74 L522.35,744.48 L522.60,743.29 L522.82,742.48 L523.00,741.02 L523.16,740.57 L523.32,739.27 L523.49,738.13 L523.68,737.03 L523.90,734.74 L523.98,734.13 L524.07,732.89 L524.15,731.62 L524.24,730.86 L524.33,729.93 L524.42,729.05 L524.51,727.92 L524.61,726.36 L524.70,725.08 L524.80,723.59 L524.90,722.68 L525.00,721.06 L525.11,719.68 L525.21,718.23 L525.32,716.85 L525.43,715.95 L525.54,714.18 L525.65,713.40 L525.77,711.41 L525.88,710.59 L526.00,708.72 L526.10,707.51 L526.21,706.85 L526.31,705.37 L526.42,704.55 L526.53,702.99 L526.65,701.72 L526.76,701.04 L526.88,699.80 L527.00,698.69 L527.12,697.39 L527.24,695.71 L527.36,694.87 L527.48,693.68 L527.60,692.27 L527.72,691.35 L527.84,689.61 L527.97,688.84 L528.09,687.40 L528.21,685.63 L528.33,684.34 L528.44,683.50 L528.56,682.32 L528.68,680.50 L528.79,679.35 L528.90,678.33 L528.99,676.80 L529.09,676.14 L529.18,674.72 L529.27,673.25 L529.36,672.29 L529.45,671.25 L529.54,669.97 L529.63,668.94 L529.72,667.37 L529.81,666.62 L529.90,665.10 L529.99,664.09 L530.07,662.86 L530.16,661.48 L530.25,660.24 L530.34,659.29 L530.42,658.17 L530.51,656.83 L530.60,655.45 L530.69,654.02 L530.78,652.63 L530.87,652.04 L530.95,650.62 L531.04,649.48 L531.13,647.91 L531.22,646.88 L531.32,645.92 L531.41,644.60 L531.50,643.23 L531.59,641.82 L531.69,640.71 L531.78,639.83 L531.88,638.27 L531.97,637.29 L532.07,636.04 L532.16,635.06 L532.26,633.80 L532.36,632.25 L532.45,630.86 L532.55,629.85 L532.65,628.77 L532.75,627.70 L532.84,626.66 L532.94,625.52 L533.04,623.73 L533.14,623.09 L533.24,621.87 L533.33,620.71 L533.43,619.29 L533.53,617.87 L533.63,617.06 L533.72,615.81 L533.82,614.50 L533.92,613.43 L534.01,611.79 L534.11,610.37 L534.20,609.45 L534.30,608.36 L534.39,606.75 L534.48,605.92 L534.57,604.80 L534.65,603.05 L534.74,602.03 L534.83,600.78 L534.92,599.32 L535.01,597.81 L535.10,596.51 L535.19,595.52 L535.27,594.20 L535.36,592.62 L535.45,591.02 L535.54,590.18 L535.62,588.82 L535.71,587.11 L535.80,586.04 L535.89,584.96 L535.97,583.67 L536.06,582.14 L536.15,580.87 L536.23,579.72 L536.32,578.25 L536.41,577.08 L536.49,575.94 L536.58,575.20 L536.66,573.90 L536.75,573.01 L536.83,571.91 L536.92,571.05 L537.00,569.90 L537.20,567.87 L537.40,566.79 L537.60,564.80 L537.80,563.22 L538.00,562.34 L538.20,561.31 L538.40,559.82 L538.59,559.14 L538.78,558.01 L538.97,557.19 L539.15,555.88 L539.33,554.88 L539.50,554.48 L539.71,552.96 L539.92,551.30 L540.11,550.00 L540.30,548.46 L540.49,547.52 L540.67,545.99 L540.85,545.10 L541.03,543.74 L541.21,542.56 L541.40,541.46 L541.61,539.63 L541.81,538.16 L542.02,536.98 L542.22,535.69 L542.43,534.38 L542.64,533.15 L542.85,532.34 L543.07,531.44 L543.30,530.10 L543.66,528.94 L544.03,527.52 L544.41,525.63 L544.80,524.80 L545.20,523.55 L545.60,522.35 L546.40,521.24 L547.22,519.45 L548.10,518.65 L549.51,517.70 L551.10,517.62 L552.36,517.86 L553.73,518.44 L555.10,519.31 L556.03,519.60 L556.95,520.71 L559.17,522.34 L559.87,522.27 L560.66,522.68 L561.54,523.44 L562.48,524.16 L563.49,525.24 L564.55,525.98 L565.65,526.70 L566.77,526.93 L567.92,528.25 L569.08,529.00 L570.24,529.76 L571.38,530.80 L572.51,530.92 L573.61,531.74 L574.67,532.88 L575.68,533.69 L576.65,534.17 L577.60,534.54 L578.53,535.37 L579.45,536.11 L580.37,536.27 L581.30,537.04 L582.25,537.63 L583.22,538.18 L584.23,539.09 L585.28,539.56 L586.36,540.32 L587.50,541.01 L588.71,542.18 L590.00,542.56 L590.85,543.57 L591.72,543.74 L592.61,544.18 L593.53,545.38 L594.47,545.47 L595.43,546.56 L596.41,547.13 L597.41,547.76 L598.42,547.87 L599.45,548.72 L600.50,549.12 L601.56,550.35 L602.64,550.94 L603.72,551.44 L604.82,551.97 L605.93,552.55 L607.04,553.54 L608.16,553.94 L609.29,554.69 L610.43,554.99 L611.57,555.67 L612.71,556.18 L613.85,557.25 L615.00,557.74 L616.03,558.07 L617.08,559.19 L618.14,559.38 L619.22,560.10 L620.32,560.53 L621.43,561.22 L622.55,562.23 L623.68,562.49 L624.81,562.98 L625.96,563.82 L627.11,564.30 L628.26,565.32 L629.42,565.37 L630.58,566.58 L631.74,566.54 L632.89,567.73 L634.04,568.17 L635.19,568.45 L636.32,569.23 L637.45,569.70 L638.57,570.28 L639.68,570.83 L640.78,571.54 L641.86,572.57 L642.92,573.17 L643.97,573.71 L645.00,573.72 L646.21,574.36 L647.44,575.32 L648.69,575.28 L649.96,576.30 L651.23,576.57 L652.51,577.62 L653.78,577.53 L655.05,578.67 L656.31,578.92 L657.55,579.36 L658.77,579.84 L659.97,580.98 L661.13,581.09 L662.26,581.16 L663.35,581.64 L664.39,582.26 L665.39,582.05 L666.32,582.55 L667.20,582.49 L668.01,582.97 L668.75,583.17 L669.41,583.35 L670.00,583.50" fill="none" stroke="#0000ff" stroke-width="8.80" stroke-linejoin="round" stroke-linecap="butt"/>
<path d="M128.20,826.60 L128.87,826.56 L129.64,826.52 L130.50,826.17 L131.46,826.27 L132.50,826.69 L133.61,826.05 L134.79,826.25 L136.03,826.27 L137.32,826.36 L138.65,825.84 L140.02,825.81 L141.43,825.71 L142.85,825.74 L144.29,825.70 L145.74,825.98 L147.18,825.83 L148.62,825.77 L150.04,825.09 L151.44,825.03 L152.82,825.43 L154.15,825.48 L155.44,825.12 L156.68,825.13 L157.85,824.65 L158.96,824.87 L160.00,825.18 L161.58,825.02 L163.10,824.96 L164.56,824.96 L165.96,824.37 L167.30,824.20 L168.60,824.16 L169.86,824.34 L171.07,824.38 L172.26,824.49 L173.41,824.27 L174.54,824.15 L175.66,824.16 L176.75,823.88 L177.84,823.88 L178.92,823.45 L180.00,823.90 L181.44,823.45 L182.88,823.86 L184.29,823.60 L185.68,823.30 L187.03,823.11 L188.34,823.13 L189.58,823.34 L190.76,823.31 L191.86,822.84 L192.88,822.74 L193.79,822.99 L194.60,822.96 L196.99,822.57 L198.00,821.87 L198.87,821.41 L199.74,820.02 L200.62,819.16 L201.50,818.25 L202.29,817.58 L203.03,816.28 L203.88,815.48 L205.00,814.48 L206.16,813.93 L207.50,813.72 L208.96,814.10 L210.48,813.85 L212.00,813.49 L213.14,813.21 L214.15,813.51 L215.19,813.61 L216.41,813.41 L217.96,813.25 L220.00,813.46 L220.90,813.60 L221.86,813.07 L222.86,812.90 L223.92,813.07 L225.03,813.08 L226.18,813.21 L227.38,812.82 L228.62,813.19 L229.91,813.09 L231.24,812.86 L232.61,812.59 L234.02,813.06 L235.46,812.52 L236.94,812.80 L238.45,812.30 L240.00,812.21 L241.02,812.51 L242.06,812.12 L243.14,812.50 L244.24,812.10 L245.36,811.81 L246.51,811.75 L247.67,811.80 L248.86,811.88 L250.06,811.99 L251.28,811.34 L252.51,811.42 L253.75,811.20 L255.00,811.64 L256.26,810.96 L257.52,810.80 L258.79,810.71 L260.05,810.84 L261.32,811.10 L262.58,810.99 L263.84,810.79 L265.09,810.88 L266.34,810.73 L267.57,810.22 L268.79,810.02 L270.00,810.46 L271.20,810.23 L272.40,809.64 L273.60,810.00 L274.80,809.71 L276.00,809.62 L277.20,809.50 L278.40,809.30 L279.60,809.10 L280.80,809.21 L282.00,809.17 L283.20,809.51 L284.40,808.84 L285.60,809.34 L286.80,808.72 L288.00,808.73 L289.20,808.96 L290.40,808.87 L291.60,808.50 L292.80,808.13 L294.00,808.33 L295.20,808.16 L296.40,808.43 L297.60,807.81 L298.80,807.82 L300.00,808.08 L301.20,807.37 L302.40,807.53 L303.60,807.70 L304.80,807.55 L306.00,806.93 L307.20,806.81 L308.40,806.70 L309.60,807.18 L310.80,806.59 L312.00,806.81 L313.20,806.79 L314.40,806.27 L315.60,806.09 L316.80,806.44 L318.00,806.06 L319.20,805.68 L320.40,805.87 L321.60,805.45 L322.80,805.29 L324.00,804.96 L325.20,805.36 L326.40,805.34 L327.60,805.01 L328.80,805.09 L330.00,804.32 L331.20,804.33 L332.40,804.37 L333.60,804.58 L334.80,804.45 L336.00,803.93 L337.20,803.71 L338.40,803.70 L339.60,803.62 L340.80,803.80 L342.00,803.15 L343.20,803.45 L344.40,803.28 L345.60,803.20 L346.80,803.04 L348.00,802.79 L349.20,802.46 L350.40,802.32 L351.60,802.21 L352.80,802.37 L354.00,801.74 L355.20,801.68 L356.40,801.92 L357.60,801.42 L358.80,801.15 L360.00,800.97 L361.20,801.18 L362.40,800.87 L363.60,801.17 L364.80,800.94 L366.00,800.86 L367.20,800.19 L368.40,799.90 L369.60,799.74 L370.80,799.85 L372.00,799.83 L373.20,799.48 L374.40,799.16 L375.60,799.11 L376.80,799.08 L378.00,798.94 L379.20,798.82 L380.40,798.71 L381.60,798.41 L382.80,797.85 L384.00,798.18 L385.20,797.62 L386.40,797.63 L387.60,797.32 L388.80,797.39 L390.00,796.84 L391.21,796.69 L392.43,796.51 L393.66,796.27 L394.91,796.60 L396.16,796.20 L397.42,795.84 L398.68,795.71 L399.95,795.94 L401.21,795.42 L402.48,795.04 L403.74,795.26 L405.00,794.96 L406.25,795.01 L407.49,794.20 L408.72,794.27 L409.94,794.33 L411.14,794.15 L412.33,794.02 L413.49,793.22 L414.64,793.20 L415.76,792.89 L416.86,792.75 L417.94,793.11 L418.98,792.65 L420.00,792.70 L421.45,792.06 L422.84,792.15 L424.19,791.59 L425.50,791.19 L426.77,791.29 L428.00,791.13 L429.20,790.27 L430.36,790.34 L431.50,790.08 L432.62,789.53 L433.71,789.37 L434.79,788.95 L435.85,788.74 L436.90,788.52 L437.94,788.52 L438.97,788.33 L440.00,787.79 L441.43,787.33 L442.79,787.24 L444.10,787.20 L445.37,786.58 L446.60,786.40 L447.81,786.07 L449.00,786.23 L450.19,785.81 L451.37,785.21 L452.56,784.98 L453.77,784.91 L455.00,784.74 L456.25,784.51 L457.50,783.83 L458.75,783.60 L460.00,783.68 L461.25,783.18 L462.50,782.80 L463.75,782.51 L465.00,782.65 L466.25,781.89 L467.50,781.74 L468.75,781.25 L470.00,780.94 L471.15,780.91 L472.31,780.65 L473.46,779.84 L474.62,779.35 L475.77,779.35 L476.92,778.59 L478.08,778.06 L479.23,778.29 L480.38,777.56 L481.54,777.43 L482.69,776.72 L483.85,776.64 L485.00,775.92 L486.17,775.28 L487.36,774.74 L488.56,774.66 L489.78,774.25 L491.00,773.97 L492.21,772.92 L493.41,772.82 L494.59,772.17 L495.75,771.80 L496.88,771.08 L497.97,770.72 L499.01,770.44 L500.00,770.30 L501.35,769.13 L502.64,768.81 L503.85,768.45 L505.01,768.00 L506.06,766.91 L507.07,766.31 L508.03,766.35 L508.94,765.85 L509.82,764.99 L511.01,763.95 L512.05,763.86 L512.98,762.81 L513.85,762.50 L514.71,761.61 L515.60,761.03 L516.59,759.83 L517.60,759.54 L518.60,758.41 L519.54,757.76 L520.39,757.21 L521.10,756.23 L521.64,754.69 L522.05,753.54 L522.36,752.41 L522.61,751.18 L522.85,749.75 L523.10,748.23 L523.32,747.30 L523.50,746.79 L523.66,746.10 L523.82,744.57 L523.99,743.74 L524.18,742.29 L524.40,739.66 L524.48,739.38 L524.57,737.96 L524.65,737.33 L524.74,736.27 L524.83,735.26 L524.92,733.91 L525.01,732.83 L525.11,731.74 L525.20,730.39 L525.30,729.28 L525.40,727.84 L525.50,726.51 L525.61,724.89 L525.71,723.95 L525.82,722.49 L525.93,720.94 L526.04,719.93 L526.15,718.57 L526.27,716.97 L526.38,715.41 L526.50,714.26 L526.60,712.87 L526.71,711.74 L526.81,710.80 L526.92,709.40 L527.03,708.47 L527.15,707.34 L527.26,705.82 L527.38,705.04 L527.50,703.45 L527.62,702.69 L527.74,701.50 L527.86,700.08 L527.98,698.53 L528.10,697.60 L528.22,696.26 L528.34,695.40 L528.47,693.56 L528.59,692.80 L528.71,691.62 L528.83,690.15 L528.94,688.91 L529.06,687.18 L529.18,686.43 L529.29,684.78 L529.40,683.79 L529.49,682.62 L529.59,680.95 L529.68,680.23 L529.77,679.16 L529.86,677.38 L529.95,676.40 L530.04,675.49 L530.13,673.88 L530.22,673.19 L530.31,671.55 L530.40,670.72 L530.49,669.03 L530.57,668.07 L530.66,667.14 L530.75,665.41 L530.84,664.22 L530.92,663.16 L531.01,661.80 L531.10,660.37 L531.19,659.24 L531.28,658.00 L531.37,657.31 L531.45,655.90 L531.54,654.83 L531.63,653.09 L531.72,652.30 L531.82,650.62 L531.91,649.69 L532.00,648.56 L532.09,647.16 L532.19,646.32 L532.28,644.89 L532.38,643.72 L532.47,642.73 L532.57,640.99 L532.66,640.42 L532.76,638.98 L532.86,637.62 L532.95,636.72 L533.05,635.15 L533.15,634.47 L533.25,632.99 L533.34,631.65 L533.44,630.73 L533.54,629.31 L533.64,627.93 L533.74,627.12 L533.83,625.43 L533.93,624.76 L534.03,623.16 L534.13,622.21 L534.22,621.23 L534.32,619.73 L534.42,618.55 L534.51,617.07 L534.61,615.61 L534.70,614.38 L534.80,613.21 L534.89,612.34 L534.98,611.00 L535.07,609.81 L535.15,608.81 L535.24,607.00 L535.33,605.76 L535.42,604.75 L535.51,602.98 L535.60,601.63 L535.69,600.54 L535.77,599.02 L535.86,597.85 L535.95,596.41 L536.04,595.32 L536.12,593.99 L536.21,592.39 L536.30,591.37 L536.39,589.96 L536.47,588.44 L536.56,587.74 L536.65,586.00 L536.73,584.72 L536.82,583.48 L536.91,582.70 L536.99,581.72 L537.08,580.56 L537.16,579.23 L537.25,578.10 L537.33,576.94 L537.42,576.44 L537.50,575.49 L537.70,573.38 L537.90,571.84 L538.10,570.15 L538.30,569.11 L538.50,567.71 L538.70,566.24 L538.90,565.65 L539.09,564.06 L539.28,563.44 L539.47,562.41 L539.65,561.33 L539.83,560.20 L540.00,559.63 L540.21,557.66 L540.42,556.65 L540.61,555.56 L540.80,553.67 L540.99,552.41 L541.17,551.42 L541.35,550.10 L541.53,548.96 L541.71,547.86 L541.90,546.20 L542.11,544.97 L542.31,543.64 L542.52,542.17 L542.72,541.48 L542.93,540.17 L543.14,538.91 L543.35,537.25 L543.57,536.72 L543.80,535.60 L544.16,533.91 L544.53,532.70 L544.91,531.20 L545.30,529.84 L545.70,528.65 L546.10,527.73 L546.90,525.90 L547.72,524.80 L548.60,524.08 L550.01,523.04 L551.60,522.84 L552.86,523.19 L554.23,523.65 L555.60,524.69 L556.53,525.09 L557.45,525.89 L559.63,527.32 L560.32,527.60 L561.10,528.39 L561.96,529.20 L562.89,529.32 L563.88,530.47 L564.91,530.59 L565.99,531.51 L567.10,532.27 L568.23,533.41 L569.36,534.34 L570.50,534.99 L571.63,535.48 L572.74,536.63 L573.81,536.98 L574.85,537.62 L575.85,538.76 L576.80,539.21 L577.73,539.88 L578.65,540.47 L579.55,541.30 L580.45,541.55 L581.37,542.42 L582.30,542.94 L583.25,543.68 L584.25,544.03 L585.28,544.91 L586.36,545.51 L587.50,546.06 L588.71,546.77 L590.00,547.89 L590.85,548.05 L591.72,549.19 L592.61,549.23 L593.53,549.75 L594.47,550.41 L595.43,551.61 L596.41,551.84 L597.41,552.35 L598.42,552.92 L599.45,553.60 L600.50,554.73 L601.56,555.36 L602.64,556.09 L603.72,556.80 L604.82,557.02 L605.93,558.07 L607.04,558.59 L608.16,559.59 L609.29,560.27 L610.43,560.98 L611.57,561.07 L612.71,562.28 L613.85,562.96 L615.00,563.61 L616.03,563.61 L617.08,564.26 L618.14,564.78 L619.22,565.31 L620.32,566.46 L621.43,567.01 L622.55,567.46 L623.68,568.17 L624.81,568.61 L625.96,568.95 L627.11,569.39 L628.26,569.96 L629.42,570.99 L630.58,571.17 L631.74,571.82 L632.89,572.46 L634.04,572.75 L635.19,573.48 L636.32,574.06 L637.45,574.93 L638.57,575.25 L639.68,575.77 L640.78,576.79 L641.86,577.02 L642.92,577.83 L643.97,578.22 L645.00,578.37 L646.21,579.21 L647.44,579.83 L648.69,580.67 L649.96,581.00 L651.23,581.89 L652.51,582.42 L653.78,582.84 L655.05,583.94 L656.31,584.05 L657.55,585.21 L658.77,585.39 L659.97,585.90 L661.13,586.53 L662.26,587.40 L663.35,588.02 L664.39,587.78 L665.39,588.54 L666.32,588.94 L667.20,589.53 L668.01,589.67 L668.75,589.98 L669.41,590.26 L670.00,590.50" fill="none" stroke="#00ff00" stroke-width="8.80" stroke-linejoin="round" stroke-linecap="butt"/>
<path d="M128.20,834.10 L128.87,834.08 L129.64,834.05 L130.50,833.90 L131.46,833.74 L132.50,834.06 L133.61,833.62 L134.79,833.90 L136.03,833.74 L137.32,833.48 L138.65,833.75 L140.02,833.37 L141.43,833.60 L142.85,833.30 L144.29,833.26 L145.74,833.45 L147.18,833.68 L148.62,833.14 L150.04,833.16 L151.44,833.39 L152.82,833.57 L154.15,833.26 L155.44,833.09 L156.68,833.45 L157.85,832.76 L158.96,833.29 L160.00,832.85 L161.58,832.69 L163.10,832.62 L164.56,832.70 L165.96,833.00 L167.30,832.50 L168.60,832.74 L169.86,832.73 L171.07,832.49 L172.26,832.57 L173.41,832.18 L174.54,832.13 L175.66,832.19 L176.75,832.47 L177.84,832.25 L178.92,832.12 L180.00,832.26 L181.44,832.10 L182.88,831.93 L184.29,832.21 L185.68,832.08 L187.03,831.69 L188.34,831.86 L189.58,831.76 L190.76,831.94 L191.86,831.77 L192.88,831.39 L193.79,831.81 L194.60,831.13 L196.99,831.09 L198.00,830.68 L198.87,829.47 L199.74,828.69 L200.62,827.25 L201.50,826.62 L202.29,825.61 L203.03,824.36 L203.88,823.54 L205.00,822.37 L206.16,822.25 L207.50,821.95 L208.96,821.82 L210.48,821.66 L212.00,821.84 L213.14,821.83 L214.15,821.46 L215.19,821.57 L216.41,821.12 L217.96,821.52 L220.00,821.40 L220.90,821.60 L221.86,821.44 L222.86,821.02 L223.92,821.05 L225.03,821.19 L226.18,820.69 L227.38,820.94 L228.62,820.68 L229.91,820.58 L231.24,820.48 L232.61,820.90 L234.02,820.38 L235.46,820.39 L236.94,820.41 L238.45,820.65 L240.00,820.01 L241.02,820.20 L242.06,820.20 L243.14,820.37 L244.24,820.25 L245.36,820.21 L246.51,819.72 L247.67,819.74 L248.86,819.61 L250.06,819.90 L251.28,819.86 L252.51,819.21 L253.75,819.14 L255.00,819.09 L256.26,819.00 L257.52,819.09 L258.79,819.07 L260.05,818.75 L261.32,818.48 L262.58,818.68 L263.84,818.55 L265.09,818.60 L266.34,818.78 L267.57,818.51 L268.79,818.30 L270.00,818.28 L271.20,818.24 L272.40,817.72 L273.60,818.23 L274.80,818.06 L276.00,818.05 L277.20,817.91 L278.40,817.55 L279.60,817.47 L280.80,817.19 L282.00,817.48 L283.20,817.00 L284.40,816.92 L285.60,816.94 L286.80,816.82 L288.00,816.86 L289.20,816.57 L290.40,816.45 L291.60,816.46 L292.80,816.33 L294.00,816.42 L295.20,816.09 L296.40,816.58 L297.60,816.30 L298.80,815.86 L300.00,815.83 L301.20,815.78 L302.40,815.67 L303.60,815.39 L304.80,815.77 L306.00,815.75 L307.20,815.25 L308.40,815.13 L309.60,814.72 L310.80,814.59 L312.00,814.63 L313.20,814.43 L314.40,814.69 L315.60,814.08 L316.80,813.84 L318.00,814.35 L319.20,813.91 L320.40,813.50 L321.60,813.63 L322.80,813.13 L324.00,813.33 L325.20,813.50 L326.40,813.28 L327.60,813.02 L328.80,812.57 L330.00,812.51 L331.20,812.23 L332.40,812.51 L333.60,812.21 L334.80,812.24 L336.00,811.79 L337.20,811.58 L338.40,811.85 L339.60,811.83 L340.80,811.60 L342.00,811.43 L343.20,811.30 L344.40,811.11 L345.60,810.61 L346.80,810.67 L348.00,810.41 L349.20,810.04 L350.40,809.90 L351.60,809.92 L352.80,809.76 L354.00,809.92 L355.20,809.95 L356.40,809.44 L357.60,809.62 L358.80,809.50 L360.00,809.32 L361.20,808.74 L362.40,808.48 L363.60,808.31 L364.80,808.12 L366.00,807.96 L367.20,808.08 L368.40,808.10 L369.60,807.88 L370.80,807.45 L372.00,807.39 L373.20,807.31 L374.40,806.63 L375.60,806.85 L376.80,806.84 L378.00,806.57 L379.20,806.36 L380.40,805.99 L381.60,805.59 L382.80,805.83 L384.00,805.32 L385.20,805.46 L386.40,805.39 L387.60,804.80 L388.80,804.62 L390.00,804.81 L391.21,804.47 L392.43,803.89 L393.66,803.67 L394.91,803.50 L396.16,803.83 L397.42,803.57 L398.68,802.91 L399.95,803.19 L401.21,803.11 L402.48,802.68 L403.74,802.27 L405.00,802.21 L406.25,801.72 L407.49,801.44 L408.72,801.92 L409.94,801.49 L411.14,801.21 L412.33,801.29 L413.49,800.75 L414.64,800.85 L415.76,800.62 L416.86,799.99 L417.94,799.82 L418.98,799.65 L420.00,799.42 L421.45,799.37 L422.84,798.84 L424.19,798.65 L425.50,798.14 L426.77,798.37 L428.00,797.68 L429.20,797.44 L430.36,797.22 L431.50,797.14 L432.62,796.49 L433.71,796.54 L434.79,795.96 L435.85,795.69 L436.90,795.40 L437.94,794.78 L438.97,794.81 L440.00,794.38 L441.43,793.91 L442.79,794.15 L444.10,793.42 L445.37,793.34 L446.60,793.25 L447.81,792.86 L449.00,792.44 L450.19,792.32 L451.37,792.08 L452.56,791.97 L453.77,791.22 L455.00,791.24 L456.25,790.73 L457.50,790.45 L458.75,790.50 L460.00,790.01 L461.25,789.75 L462.50,789.58 L463.75,789.38 L465.00,788.73 L466.25,788.52 L467.50,788.11 L468.75,787.77 L470.00,787.53 L471.15,787.02 L472.31,786.73 L473.46,786.33 L474.62,786.29 L475.77,785.74 L476.92,785.49 L478.08,785.15 L479.23,784.27 L480.38,784.09 L481.54,783.95 L482.69,783.47 L483.85,782.56 L485.00,782.14 L486.17,781.93 L487.36,781.23 L488.56,780.90 L489.78,780.32 L491.00,780.27 L492.21,779.88 L493.41,779.49 L494.59,778.50 L495.75,778.43 L496.88,777.93 L497.97,777.12 L499.01,777.19 L500.00,776.83 L501.35,775.70 L502.64,775.63 L503.85,774.67 L505.01,774.16 L506.10,773.96 L507.15,773.31 L508.14,772.30 L509.09,771.97 L510.00,771.51 L511.24,770.65 L512.31,769.85 L513.28,769.26 L514.19,768.87 L515.08,767.69 L516.00,767.34 L516.99,766.52 L518.00,765.51 L519.00,764.99 L519.94,764.41 L520.79,763.47 L521.50,762.20 L522.04,761.76 L522.45,760.44 L522.76,759.31 L523.01,757.40 L523.25,756.18 L523.50,754.68 L523.72,754.18 L523.90,752.99 L524.06,752.07 L524.22,751.34 L524.39,750.50 L524.58,748.85 L524.80,746.33 L524.88,745.41 L524.97,745.04 L525.05,743.83 L525.14,742.89 L525.23,741.39 L525.32,740.25 L525.41,739.53 L525.51,738.14 L525.60,736.66 L525.70,736.00 L525.80,734.49 L525.90,733.28 L526.01,731.44 L526.11,730.63 L526.22,728.71 L526.33,727.90 L526.44,726.23 L526.55,724.78 L526.67,723.55 L526.78,722.45 L526.90,720.64 L527.00,719.41 L527.11,718.54 L527.21,717.18 L527.32,715.93 L527.43,714.80 L527.55,713.54 L527.66,712.46 L527.78,711.34 L527.90,710.13 L528.02,709.23 L528.14,707.68 L528.26,706.60 L528.38,705.14 L528.50,704.01 L528.62,702.53 L528.74,701.43 L528.87,700.01 L528.99,699.24 L529.11,697.83 L529.23,696.29 L529.34,695.20 L529.46,694.23 L529.58,692.35 L529.69,691.54 L529.80,689.95 L529.89,688.86 L529.99,687.95 L530.08,686.48 L530.17,685.39 L530.26,684.34 L530.35,683.37 L530.44,681.73 L530.53,680.88 L530.62,679.59 L530.71,678.34 L530.80,676.96 L530.89,675.71 L530.97,674.28 L531.06,673.12 L531.15,671.85 L531.24,671.09 L531.32,669.52 L531.41,668.23 L531.50,666.94 L531.59,666.24 L531.68,665.03 L531.77,663.66 L531.85,662.16 L531.94,660.91 L532.03,659.72 L532.12,658.61 L532.22,657.18 L532.31,656.17 L532.40,654.83 L532.49,654.12 L532.59,652.92 L532.68,651.43 L532.78,650.02 L532.87,649.33 L532.97,647.68 L533.06,646.52 L533.16,645.08 L533.26,644.15 L533.35,643.03 L533.45,641.86 L533.55,640.46 L533.65,639.48 L533.74,637.94 L533.84,636.93 L533.94,635.61 L534.04,634.63 L534.14,633.17 L534.23,631.96 L534.33,630.95 L534.43,629.69 L534.53,628.72 L534.62,627.46 L534.72,626.39 L534.82,625.09 L534.91,623.90 L535.01,622.77 L535.10,621.18 L535.20,619.88 L535.29,619.15 L535.38,617.34 L535.47,616.50 L535.55,615.18 L535.64,613.48 L535.73,612.74 L535.82,611.46 L535.91,609.95 L536.00,608.69 L536.09,607.41 L536.17,605.59 L536.26,604.51 L536.35,603.16 L536.44,602.05 L536.52,600.69 L536.61,599.38 L536.70,597.89 L536.79,596.81 L536.87,595.38 L536.96,594.12 L537.05,592.55 L537.13,591.19 L537.22,590.06 L537.31,589.05 L537.39,587.74 L537.48,587.15 L537.56,585.89 L537.65,584.91 L537.73,583.92 L537.82,583.02 L537.90,581.99 L538.10,579.69 L538.30,578.51 L538.50,576.92 L538.70,575.36 L538.90,574.13 L539.10,573.08 L539.30,571.62 L539.49,571.10 L539.68,569.81 L539.87,568.74 L540.05,567.91 L540.23,567.23 L540.40,565.79 L540.61,564.74 L540.82,563.51 L541.01,561.81 L541.20,560.41 L541.39,559.17 L541.57,558.04 L541.75,556.85 L541.93,555.51 L542.11,554.31 L542.30,552.70 L542.51,551.42 L542.71,550.18 L542.92,549.23 L543.12,547.64 L543.33,546.59 L543.54,544.99 L543.75,543.86 L543.97,542.90 L544.20,542.12 L544.56,540.64 L544.93,539.23 L545.31,537.67 L545.70,536.62 L546.10,535.48 L546.50,534.48 L547.30,532.54 L548.12,531.78 L549.00,530.29 L550.41,529.83 L552.00,529.51 L553.26,529.16 L554.63,530.09 L556.00,531.02 L556.93,531.51 L557.85,531.59 L560.00,532.84 L560.68,533.26 L561.45,534.30 L562.30,534.37 L563.21,535.27 L564.19,535.65 L565.21,536.64 L566.27,537.70 L567.36,537.89 L568.47,539.16 L569.59,539.74 L570.71,540.79 L571.82,541.44 L572.92,541.87 L573.98,543.08 L575.00,543.49 L575.98,543.84 L576.92,544.47 L577.84,545.44 L578.74,546.02 L579.63,546.53 L580.52,547.02 L581.42,547.77 L582.34,548.37 L583.28,549.37 L584.26,549.43 L585.28,550.63 L586.36,551.39 L587.50,551.63 L588.71,552.97 L590.00,553.65 L590.85,554.32 L591.72,554.46 L592.61,555.09 L593.53,555.70 L594.47,556.74 L595.43,557.07 L596.41,557.55 L597.41,558.25 L598.42,558.80 L599.45,559.30 L600.50,560.01 L601.56,561.20 L602.64,561.50 L603.72,562.64 L604.82,562.84 L605.93,563.54 L607.04,564.39 L608.16,564.85 L609.29,565.65 L610.43,566.73 L611.57,567.34 L612.71,567.94 L613.85,568.46 L615.00,569.29 L616.03,569.86 L617.08,570.14 L618.14,570.81 L619.22,570.89 L620.32,571.92 L621.43,572.26 L622.55,573.02 L623.68,573.49 L624.81,573.78 L625.96,574.15 L627.11,575.30 L628.26,575.28 L629.42,576.06 L630.58,576.50 L631.74,577.00 L632.89,577.84 L634.04,578.54 L635.19,578.57 L636.32,579.38 L637.45,579.66 L638.57,580.37 L639.68,580.79 L640.78,581.16 L641.86,581.68 L642.92,582.24 L643.97,583.26 L645.00,583.50 L646.21,583.94 L647.44,585.07 L648.69,585.80 L649.96,586.10 L651.23,586.58 L652.51,587.32 L653.78,587.96 L655.05,588.85 L656.31,589.38 L657.55,590.19 L658.77,590.89 L659.97,591.79 L661.13,592.68 L662.26,593.23 L663.35,593.62 L664.39,594.23 L665.39,594.87 L666.32,595.31 L667.20,595.79 L668.01,596.37 L668.75,596.79 L669.41,597.17 L670.00,597.50" fill="none" stroke="#ff00ff" stroke-width="8.80" stroke-linejoin="round" stroke-linecap="butt"/>
<clipPath id="ci"><rect x="198.60" y="482.80" width="307.30" height="210.10"/></clipPath>
<g clip-path="url(#ci)">
<path d="M203.00,659.50 L203.50,659.50 L204.00,659.50 L204.50,662.35 L205.00,659.46 L205.50,659.50 L206.00,657.31 L206.50,658.22 L207.00,660.02 L207.50,656.81 L208.00,660.70 L208.50,657.35 L209.00,659.14 L209.50,662.51 L210.00,656.87 L210.50,656.56 L211.00,659.11 L211.50,657.52 L212.00,660.93 L212.50,656.32 L213.00,661.68 L213.50,661.77 L214.00,661.34 L214.50,659.02 L215.00,658.11 L215.50,660.52 L216.00,659.56 L216.50,658.95 L217.00,658.40 L217.50,659.02 L218.00,660.46 L218.50,661.47 L219.00,661.95 L219.50,657.20 L220.00,658.03 L220.50,658.95 L221.00,659.71 L221.50,658.31 L222.00,657.32 L222.50,656.59 L223.00,658.10 L223.50,658.96 L224.00,662.22 L224.50,661.80 L225.00,661.51 L225.50,662.19 L226.00,662.09 L226.50,659.88 L227.00,661.09 L227.50,656.27 L228.00,660.20 L228.50,659.75 L229.00,657.73 L229.50,659.47 L230.00,661.90 L230.40,659.18 L230.80,660.54 L231.20,658.62 L231.60,659.20 L232.00,662.96 L232.40,657.78 L232.80,659.11 L233.20,662.54 L233.60,661.36 L234.00,659.35 L234.18,663.50 L234.35,662.12 L234.53,663.93 L234.71,663.35 L234.88,664.54 L235.06,665.24 L235.24,664.63 L235.41,663.30 L235.59,664.19 L235.76,669.20 L235.94,667.48 L236.12,666.87 L236.29,668.84 L236.47,668.10 L236.65,668.25 L236.82,669.59 L237.00,669.50 L237.75,671.48 L238.50,673.11 L239.25,673.95 L240.00,676.15 L241.67,675.53 L243.33,676.63 L245.00,677.08 L246.67,676.36 L248.33,677.32 L250.00,676.95 L251.61,677.74 L253.23,678.64 L254.84,678.08 L256.45,678.46 L258.06,678.60 L259.68,677.38 L261.29,679.19 L262.90,678.71 L264.52,677.53 L266.13,679.04 L267.74,678.22 L269.35,677.84 L270.97,679.47 L272.58,678.74 L274.19,679.22 L275.81,678.00 L277.42,679.34 L279.03,677.96 L280.65,678.38 L282.26,678.71 L283.87,678.05 L285.48,679.27 L287.10,678.56 L288.71,678.79 L290.32,679.67 L291.94,679.16 L293.55,680.14 L295.16,679.67 L296.77,680.23 L298.39,679.67 L300.00,680.44 L301.67,680.34 L303.33,678.94 L305.00,680.09 L306.67,679.28 L308.33,680.13 L310.00,679.96 L311.67,680.25 L313.33,678.85 L315.00,679.35 L316.67,680.07 L318.33,680.50 L320.00,680.04 L321.67,678.69 L323.33,679.81 L325.00,678.80 L326.67,679.70 L328.33,680.21 L330.00,678.83 L331.67,680.36 L333.33,679.77 L335.00,678.83 L336.67,678.62 L338.33,679.04 L340.00,679.73 L341.67,679.12 L343.33,678.09 L345.00,677.82 L346.67,677.90 L348.33,679.19 L350.00,677.87 L351.67,678.48 L353.33,677.81 L355.00,678.47 L356.67,677.73 L358.33,677.12 L360.00,678.45 L361.67,677.64 L363.33,677.81 L365.00,677.92 L366.55,677.75 L368.09,675.44 L369.64,675.65 L371.18,674.82 L372.73,675.08 L374.27,675.37 L375.82,674.78 L377.36,672.81 L378.91,672.66 L380.45,673.48 L382.00,672.76 L383.00,670.59 L384.00,669.15 L385.00,666.92 L386.00,666.69 L387.00,663.95 L388.00,663.08 L389.00,660.72 L390.33,658.65 L391.67,658.16 L393.00,656.93 L394.75,657.66 L396.50,656.43 L398.25,654.71 L400.00,654.34 L401.19,653.63 L402.38,652.76 L403.56,651.89 L404.75,650.43 L405.94,649.27 L407.12,647.49 L408.31,647.55 L409.50,645.97 L410.56,644.10 L411.63,643.73 L412.69,643.54 L413.76,640.42 L414.82,639.38 L415.89,639.18 L416.95,637.15 L418.01,635.90 L419.08,635.11 L420.14,633.40 L421.21,632.77 L422.27,631.44 L423.34,631.06 L424.40,629.88 L425.23,626.59 L426.06,626.27 L426.88,625.31 L427.71,624.13 L428.54,622.56 L429.37,620.90 L430.19,619.52 L431.02,617.60 L431.85,616.06 L432.68,615.71 L433.51,614.49 L434.33,613.24 L435.16,611.35 L435.99,609.22 L436.82,608.76 L437.64,607.33 L438.47,605.50 L439.30,604.37 L440.03,602.34 L440.76,601.28 L441.49,599.54 L442.22,597.39 L442.95,596.48 L443.68,594.99 L444.41,594.87 L445.14,592.39 L445.86,590.71 L446.59,589.00 L447.32,587.52 L448.05,586.29 L448.78,584.41 L449.51,582.69 L450.24,582.96 L450.97,580.67 L451.70,579.19 L452.43,577.98 L453.16,575.99 L453.89,574.26 L454.62,572.60 L455.35,571.61 L456.08,570.16 L456.81,569.54 L457.54,567.73 L458.26,567.05 L458.99,564.39 L459.72,564.10 L460.45,561.96 L461.18,559.50 L461.91,558.23 L462.64,557.58 L463.37,556.93 L464.10,554.21 L464.72,553.49 L465.34,551.24 L465.96,550.57 L466.58,547.41 L467.19,546.69 L467.81,545.96 L468.43,543.16 L469.05,541.57 L469.67,539.54 L470.29,538.27 L470.91,536.92 L471.52,536.23 L472.14,533.71 L472.76,532.51 L473.38,530.56 L474.00,529.81 L474.75,528.75 L475.50,526.75 L476.25,524.27 L477.00,523.77 L477.75,522.65 L478.50,520.35 L479.25,517.73 L480.00,517.62 L480.85,516.00 L481.70,513.18 L482.55,511.02 L483.40,509.38 L483.82,508.41 L484.23,507.42 L484.65,505.28 L485.07,504.18 L485.48,501.09 L485.90,499.65 L486.60,499.00 L487.30,497.30 L488.00,495.31 L489.50,493.86 L490.85,491.43 L492.20,489.11 L492.70,488.08 L493.20,485.59 L493.70,485.00 L494.20,482.67 L495.00,480.00" fill="none" stroke="#ff0000" stroke-width="4.60" stroke-linejoin="round" stroke-linecap="butt"/>
<path d="M203.00,667.50 L203.50,667.49 L204.00,667.48 L204.50,667.36 L205.00,665.91 L205.50,668.81 L206.00,667.65 L206.50,669.00 L207.00,666.01 L207.50,667.78 L208.00,668.12 L208.50,666.85 L209.00,666.09 L209.50,666.28 L210.00,666.23 L210.50,668.22 L211.00,666.04 L211.50,668.35 L212.00,667.09 L212.50,667.45 L213.00,667.60 L213.50,667.48 L214.00,667.80 L214.50,667.61 L215.00,666.74 L215.50,668.04 L216.00,666.48 L216.50,667.93 L217.00,668.08 L217.50,668.11 L218.00,666.61 L218.50,668.09 L219.00,668.73 L219.50,667.04 L220.00,666.48 L220.50,667.25 L221.00,668.58 L221.50,665.98 L222.00,665.58 L222.50,667.06 L223.00,667.63 L223.50,668.00 L224.00,666.67 L224.50,668.67 L225.00,666.22 L225.50,667.90 L226.00,665.76 L226.50,665.55 L227.00,665.88 L227.50,665.64 L228.00,667.04 L228.50,667.20 L229.00,666.00 L229.50,668.42 L230.00,666.57 L230.50,666.13 L231.00,666.47 L231.50,668.51 L232.00,669.35 L232.50,667.17 L233.00,666.99 L233.50,669.64 L234.00,668.18 L234.25,670.98 L234.50,669.87 L234.75,670.75 L235.00,670.25 L235.25,672.15 L235.50,671.50 L235.75,671.50 L236.00,673.15 L236.25,672.31 L236.50,673.75 L236.75,673.12 L237.00,674.48 L237.25,674.53 L237.50,675.71 L237.75,674.86 L238.00,676.10 L239.33,676.86 L240.67,678.67 L242.00,679.71 L243.64,679.25 L245.27,678.65 L246.91,678.74 L248.55,678.80 L250.18,679.12 L251.82,678.84 L253.45,678.84 L255.09,679.78 L256.73,679.64 L258.36,679.13 L260.00,680.29 L261.60,679.13 L263.20,679.77 L264.80,679.19 L266.40,680.40 L268.00,680.49 L269.60,679.61 L271.20,680.46 L272.80,680.66 L274.40,679.87 L276.00,680.03 L277.60,680.36 L279.20,681.09 L280.80,680.00 L282.40,680.91 L284.00,680.86 L285.60,680.70 L287.20,680.99 L288.80,681.55 L290.40,680.56 L292.00,681.71 L293.60,680.96 L295.20,681.71 L296.80,681.92 L298.40,680.91 L300.00,682.08 L301.60,682.41 L303.20,681.42 L304.80,681.10 L306.40,681.36 L308.00,682.86 L309.60,681.44 L311.20,683.00 L312.80,681.90 L314.40,682.96 L316.00,682.06 L317.60,682.29 L319.20,683.23 L320.80,682.40 L322.40,682.92 L324.00,683.97 L325.60,683.77 L327.20,684.15 L328.80,684.43 L330.40,683.03 L332.00,683.48 L333.60,684.49 L335.20,684.44 L336.80,683.52 L338.40,684.39 L340.00,684.07 L341.62,684.36 L343.24,683.81 L344.86,683.65 L346.49,685.18 L348.11,684.07 L349.73,684.94 L351.35,683.70 L352.97,684.26 L354.59,683.67 L356.22,684.12 L357.84,683.69 L359.46,684.47 L361.08,683.59 L362.70,684.50 L364.32,684.10 L365.95,683.45 L367.57,683.81 L369.19,684.01 L370.81,684.66 L372.43,683.72 L374.05,683.48 L375.68,684.65 L377.30,684.49 L378.92,684.22 L380.54,683.46 L382.16,683.28 L383.78,683.39 L385.41,683.05 L387.03,682.99 L388.65,683.70 L390.27,683.52 L391.89,683.73 L393.51,683.39 L395.14,682.80 L396.76,683.86 L398.38,683.77 L400.00,683.57 L401.67,683.24 L403.33,683.14 L405.00,683.27 L406.67,682.77 L408.33,682.18 L410.00,681.34 L411.62,680.58 L413.25,680.12 L414.88,680.38 L416.50,678.82 L418.12,678.19 L419.75,677.61 L421.38,676.55 L423.00,677.30 L424.57,674.92 L426.14,675.10 L427.71,674.82 L429.29,672.96 L430.86,672.75 L432.43,671.59 L434.00,670.59 L435.50,669.67 L437.00,668.69 L438.50,669.00 L440.00,668.05 L441.50,667.40 L443.00,665.18 L444.50,665.36 L446.00,663.92 L447.27,663.28 L448.55,661.98 L449.82,660.45 L451.10,660.35 L452.38,657.65 L453.65,657.69 L454.93,656.72 L456.20,655.02 L457.48,654.00 L458.75,653.49 L460.03,651.13 L461.30,650.61 L462.39,649.53 L463.49,647.69 L464.58,646.97 L465.67,645.20 L466.76,644.16 L467.86,643.04 L468.95,641.88 L470.04,640.06 L471.14,639.29 L472.23,637.90 L473.32,636.13 L474.41,635.49 L475.51,633.68 L476.60,633.45 L477.56,631.46 L478.53,630.57 L479.49,628.95 L480.45,627.59 L481.41,625.89 L482.38,624.46 L483.34,624.43 L484.30,622.50 L485.26,621.19 L486.23,619.91 L487.19,619.07 L488.15,616.86 L489.11,615.46 L490.07,615.20 L491.04,613.33 L492.00,612.32 L492.89,611.25 L493.79,609.97 L494.68,608.55 L495.57,605.85 L496.46,605.02 L497.36,604.36 L498.25,602.96 L499.14,600.47 L500.04,599.14 L500.93,597.92 L501.82,596.30 L502.71,595.33 L503.61,594.66 L504.50,592.80" fill="none" stroke="#0000ff" stroke-width="4.60" stroke-linejoin="round" stroke-linecap="butt"/>
<path d="M203.00,670.50 L203.50,670.48 L204.00,670.46 L204.50,670.11 L205.00,672.02 L205.50,671.03 L206.00,670.23 L206.50,670.30 L207.00,671.31 L207.50,671.16 L208.00,669.19 L208.50,670.87 L209.00,669.85 L209.50,670.33 L210.00,669.40 L210.50,669.81 L211.00,669.69 L211.50,669.80 L212.00,668.62 L212.50,669.19 L213.00,670.36 L213.50,668.70 L214.00,669.06 L214.50,670.77 L215.00,669.33 L215.50,669.47 L216.00,669.19 L216.50,671.07 L217.00,668.67 L217.50,670.40 L218.00,671.09 L218.50,668.97 L219.00,669.66 L219.50,670.82 L220.00,670.25 L220.50,669.44 L221.00,668.37 L221.50,669.63 L222.00,669.37 L222.50,670.46 L223.00,669.10 L223.50,669.45 L224.00,670.20 L224.50,670.70 L225.00,669.21 L225.50,669.30 L226.00,669.90 L226.50,670.99 L227.00,668.62 L227.50,671.10 L228.00,670.25 L228.50,669.15 L229.00,670.07 L229.50,668.97 L230.00,668.13 L230.50,670.51 L231.00,669.49 L231.50,670.15 L232.00,670.24 L232.50,671.72 L233.00,671.45 L233.50,669.29 L234.00,671.30 L234.25,671.32 L234.50,671.75 L234.75,673.40 L235.00,672.48 L235.25,673.10 L235.50,674.87 L235.75,673.87 L236.00,674.49 L236.25,674.96 L236.50,675.89 L236.75,676.09 L237.00,676.63 L237.25,676.53 L237.50,676.39 L237.75,677.85 L238.00,678.09 L240.00,679.68 L242.00,680.93 L243.64,679.93 L245.27,680.14 L246.91,679.96 L248.55,681.19 L250.18,680.09 L251.82,680.11 L253.45,681.22 L255.09,680.97 L256.73,680.20 L258.36,681.24 L260.00,681.34 L261.60,681.03 L263.20,680.41 L264.80,681.49 L266.40,681.11 L268.00,681.43 L269.60,682.16 L271.20,681.93 L272.80,682.08 L274.40,680.97 L276.00,681.33 L277.60,681.69 L279.20,680.93 L280.80,682.56 L282.40,681.48 L284.00,681.52 L285.60,681.66 L287.20,681.63 L288.80,682.65 L290.40,682.23 L292.00,682.22 L293.60,682.13 L295.20,681.60 L296.80,682.07 L298.40,683.03 L300.00,682.98 L301.60,683.19 L303.20,682.35 L304.80,682.38 L306.40,682.26 L308.00,683.16 L309.60,683.02 L311.20,683.28 L312.80,683.44 L314.40,683.71 L316.00,683.49 L317.60,684.30 L319.20,683.46 L320.80,684.73 L322.40,684.27 L324.00,683.58 L325.60,684.12 L327.20,684.59 L328.80,684.51 L330.40,684.88 L332.00,684.62 L333.60,684.66 L335.20,685.61 L336.80,684.93 L338.40,685.72 L340.00,685.98 L341.63,685.65 L343.26,685.43 L344.89,686.20 L346.53,685.41 L348.16,686.10 L349.79,684.79 L351.42,685.39 L353.05,685.72 L354.68,684.78 L356.32,686.08 L357.95,684.82 L359.58,685.65 L361.21,684.99 L362.84,686.18 L364.47,685.60 L366.11,685.98 L367.74,685.50 L369.37,685.78 L371.00,685.78 L372.63,685.17 L374.26,685.04 L375.89,686.04 L377.53,684.93 L379.16,686.17 L380.79,685.03 L382.42,684.86 L384.05,684.85 L385.68,685.95 L387.32,686.22 L388.95,685.36 L390.58,685.75 L392.21,685.11 L393.84,686.15 L395.47,685.80 L397.11,684.95 L398.74,684.79 L400.37,685.81 L402.00,684.77 L403.56,685.64 L405.12,684.37 L406.69,683.87 L408.25,684.03 L409.81,683.21 L411.38,683.20 L412.94,682.15 L414.50,682.96 L416.05,681.31 L417.60,681.42 L419.15,679.61 L420.70,679.93 L422.25,679.51 L423.80,677.85 L425.35,676.57 L426.90,676.41 L428.45,676.14 L430.00,674.78 L431.55,674.61 L433.10,673.20 L434.65,673.11 L436.20,672.84 L437.75,671.68 L439.30,671.39 L440.68,669.66 L442.06,669.98 L443.43,668.03 L444.81,668.49 L446.19,667.78 L447.57,666.87 L448.94,665.39 L450.32,664.19 L451.70,663.46 L453.08,663.27 L454.46,662.03 L455.83,661.89 L457.21,659.72 L458.59,659.51 L459.97,659.28 L461.34,658.02 L462.72,657.10 L464.10,655.54 L465.48,654.66 L466.86,653.90 L468.23,653.93 L469.61,652.89 L470.99,650.93 L472.37,651.08 L473.74,648.69 L475.12,648.62 L476.50,648.25 L477.74,646.14 L478.98,645.99 L480.22,644.42 L481.46,642.34 L482.70,641.68 L483.94,640.76 L485.18,639.33 L486.42,639.01 L487.66,637.00 L488.90,636.86 L490.25,635.09 L491.60,633.74 L492.95,633.54 L494.30,631.82 L495.65,631.57 L497.00,630.96 L498.46,629.61 L499.92,628.36 L501.38,626.63 L502.84,626.36 L504.30,625.30" fill="none" stroke="#00ff00" stroke-width="4.60" stroke-linejoin="round" stroke-linecap="butt"/>
<path d="M203.00,673.00 L203.50,672.98 L204.00,672.96 L204.50,673.23 L205.00,672.40 L205.50,672.46 L206.00,673.48 L206.50,671.66 L207.00,671.66 L207.50,674.42 L208.00,672.21 L208.50,674.03 L209.00,674.12 L209.50,672.69 L210.00,671.48 L210.50,671.26 L211.00,674.07 L211.50,671.31 L212.00,672.65 L212.50,672.78 L213.00,671.25 L213.50,672.50 L214.00,671.38 L214.50,672.70 L215.00,672.58 L215.50,672.06 L216.00,671.43 L216.50,672.15 L217.00,671.41 L217.50,671.12 L218.00,671.51 L218.50,673.76 L219.00,672.41 L219.50,673.80 L220.00,670.62 L220.50,673.95 L221.00,672.29 L221.50,673.36 L222.00,672.55 L222.50,672.96 L223.00,671.28 L223.50,673.14 L224.00,670.98 L224.50,671.35 L225.00,670.50 L225.50,671.78 L226.00,672.21 L226.50,671.38 L227.00,673.52 L227.50,670.60 L228.00,672.36 L228.50,671.10 L229.00,672.38 L229.50,673.04 L230.00,672.76 L230.40,670.72 L230.80,671.68 L231.20,673.26 L231.60,674.94 L232.00,671.85 L232.40,674.23 L232.80,674.79 L233.20,675.53 L233.60,674.13 L234.00,676.12 L234.24,675.30 L234.47,677.40 L234.71,674.56 L234.94,678.35 L235.18,676.89 L235.41,677.31 L235.65,676.61 L235.88,677.61 L236.12,679.39 L236.35,679.73 L236.59,679.23 L236.82,680.01 L237.06,680.09 L237.29,680.63 L237.53,681.11 L237.76,681.75 L238.00,683.36 L239.33,684.33 L240.67,684.89 L242.00,685.26 L243.64,685.31 L245.27,685.84 L246.91,686.09 L248.55,685.83 L250.18,685.64 L251.82,684.87 L253.45,685.65 L255.09,686.07 L256.73,685.98 L258.36,684.75 L260.00,685.89 L261.60,685.27 L263.20,684.97 L264.80,686.46 L266.40,685.97 L268.00,686.14 L269.60,685.08 L271.20,686.37 L272.80,686.61 L274.40,686.59 L276.00,686.34 L277.60,686.54 L279.20,686.52 L280.80,686.18 L282.40,685.94 L284.00,686.69 L285.60,686.65 L287.20,686.85 L288.80,685.86 L290.40,687.09 L292.00,686.36 L293.60,687.14 L295.20,685.69 L296.80,687.26 L298.40,686.98 L300.00,686.05 L301.60,687.19 L303.20,686.18 L304.80,686.20 L306.40,686.74 L308.00,686.43 L309.60,686.97 L311.20,687.79 L312.80,687.47 L314.40,687.60 L316.00,687.11 L317.60,687.89 L319.20,687.99 L320.80,687.87 L322.40,688.42 L324.00,688.29 L325.60,687.61 L327.20,687.12 L328.80,688.21 L330.40,688.63 L332.00,687.81 L333.60,688.35 L335.20,688.87 L336.80,688.87 L338.40,687.53 L340.00,688.48 L341.62,687.66 L343.24,687.87 L344.86,689.17 L346.49,688.49 L348.11,688.86 L349.73,688.63 L351.35,688.45 L352.97,688.27 L354.59,688.55 L356.22,689.47 L357.84,689.10 L359.46,688.55 L361.08,688.22 L362.70,688.58 L364.32,689.39 L365.95,688.96 L367.57,689.39 L369.19,689.69 L370.81,688.48 L372.43,689.53 L374.05,688.41 L375.68,689.85 L377.30,688.74 L378.92,688.93 L380.54,690.20 L382.16,689.17 L383.78,688.95 L385.41,690.19 L387.03,689.72 L388.65,690.26 L390.27,689.40 L391.89,689.62 L393.51,690.48 L395.14,689.71 L396.76,690.61 L398.38,689.21 L400.00,690.40 L401.62,688.84 L403.23,689.15 L404.85,687.86 L406.46,687.83 L408.08,688.86 L409.69,687.63 L411.31,687.93 L412.93,686.57 L414.54,686.41 L416.16,685.61 L417.77,686.07 L419.39,686.28 L421.01,685.31 L422.62,684.71 L424.24,685.36 L425.85,684.95 L427.47,684.19 L429.08,682.78 L430.70,683.42 L432.23,682.61 L433.76,683.04 L435.29,681.48 L436.82,681.53 L438.35,680.99 L439.88,680.04 L441.41,679.81 L442.94,679.60 L444.47,679.52 L446.00,678.30 L447.53,677.56 L449.06,678.18 L450.59,676.03 L452.12,676.94 L453.65,676.18 L455.18,675.46 L456.71,674.78 L458.24,674.83 L459.77,674.59 L461.30,673.81 L462.83,673.31 L464.37,671.48 L465.90,671.47 L467.43,670.59 L468.97,671.52 L470.50,670.86 L472.03,668.98 L473.57,669.24 L475.10,668.68 L476.63,667.18 L478.17,667.27 L479.70,667.37 L481.23,666.63 L482.77,665.45 L484.30,665.77 L485.84,664.25 L487.38,664.03 L488.92,663.13 L490.45,663.45 L491.99,662.18 L493.53,661.79 L495.07,660.88 L496.61,659.67 L498.15,660.04 L499.68,658.91 L501.22,658.20 L502.76,656.78 L504.30,656.50" fill="none" stroke="#ff00ff" stroke-width="4.60" stroke-linejoin="round" stroke-linecap="butt"/>
</g>
<line x1="384.00" y1="832.40" x2="441.00" y2="832.40" stroke="#ff0000" stroke-width="8.20" stroke-linecap="butt"/>
<line x1="523.30" y1="832.40" x2="580.30" y2="832.40" stroke="#0000ff" stroke-width="8.20" stroke-linecap="butt"/>
<line x1="383.90" y1="859.10" x2="440.90" y2="859.10" stroke="#00ff00" stroke-width="8.20" stroke-linecap="butt"/>
<line x1="523.30" y1="859.30" x2="580.30" y2="859.30" stroke="#ff00ff" stroke-width="8.20" stroke-linecap="butt"/>
<text x="443.06" y="839.50" font-size="22.00" font-family='"Liberation Serif", serif' font-weight="normal" fill="#000" text-anchor="start">100 KHz</text>
<text x="581.74" y="839.50" font-size="22.00" font-family='"Liberation Serif", serif' font-weight="normal" fill="#000" text-anchor="start">300 KHz</text>
<text x="443.06" y="866.70" font-size="22.00" font-family='"Liberation Serif", serif' font-weight="normal" fill="#000" text-anchor="start">500 KHz</text>
<text x="582.36" y="866.70" font-size="22.00" font-family='"Liberation Serif", serif' font-weight="normal" fill="#000" text-anchor="start">1 MHz</text>
</svg>
</body></html>
